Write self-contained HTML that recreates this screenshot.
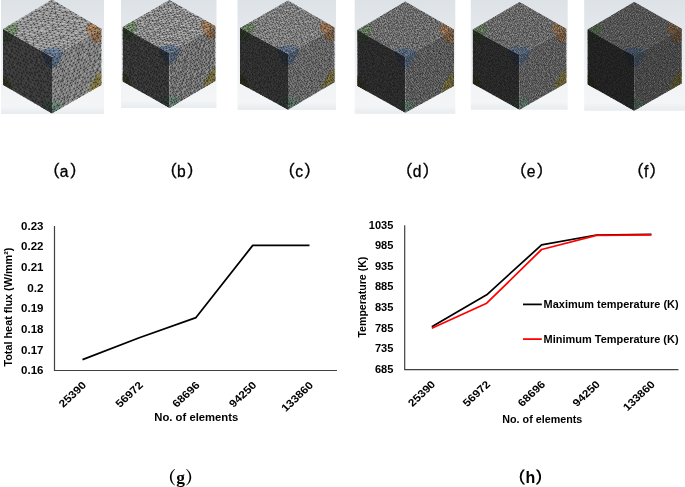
<!DOCTYPE html>
<html lang="en"><head><meta charset="utf-8"><title>Mesh independence study</title>
<style>html,body{margin:0;padding:0;background:#fff;overflow:hidden}svg{display:block;will-change:transform}</style></head>
<body>
<svg width="685" height="487" viewBox="0 0 685 487">
<defs><linearGradient id="pg" x1="0" y1="0" x2="0" y2="1"><stop offset="0" stop-color="#dde2e7"/><stop offset="0.75" stop-color="#f1f3f5"/><stop offset="0.93" stop-color="#f3f5f7"/><stop offset="1" stop-color="#e8ecef"/></linearGradient><path id="ml" d="M0 0l13 0 7 1 8-1 13 2 7-3 10 3 13-5 12 6 8-2 7-4 12 0 8 1 9 2 13 2 10-1 10 0 10-2 13 4 9-2 7-3 10-1 13 2 10 0 11 3 4-4 15 2 11-1 4 2 15-2 6 0 15 3 5-4 10-1 14 1 8 2 8 1 10 0 10-1 10-1 15 3 6 0 9-3 14 2 6 2 10-4 14 0M-6 6l9 3 10 0 11-1 14 1 7 2 8-4 14 4 6-4 13 4 7 0 14-2 8-3 7 5 11-1 11 1 12-4 7 3 9-3 13 4 11-4 12 0 4 0 13-1 8 2 12-2 9 5 14-1 8-1 7-3 9 5 14 0 6-2 13 1 9 2 8-3 14 2 10-1 11 1 7-1 13 1 8-1 12-1 9-1 9 1 7 0 16 2 8-3M1 18l9 1 8 0 9-1 13-2 11 1 10 3 8-6 10 4 9-3 14 3 8 2 9-2 9-1 14 3 10-3 8-1 8 1 14 2 9 1 8-5 11 1 8 1 13 0 8 2 14-2 4-2 15 0 9 3 8 1 8-4 13-1 12 2 6-1 13 2 10 1 11 2 9-4 9-1 7 2 14-2 8 1 12 1 10 2 8 0 13-4 11 4M-7 26l13 2 8-2 13 2 11-2 8-2 10 4 10-1 7 1 15 1 7-1 9 0 13-3 5 1 13 2 10-5 12 0 10 1 7 4 9-4 12 3 12 0 11-1 10-3 5 3 11 1 12-1 11 0 7-1 13 3 6 0 15-2 7-2 10 2 11-3 12 3 6 2 11-2 11-3 9 2 13 4 6-3 9 0 14 2 8-3 8 2 15-3 9-1M-2 33l13 1 8 1 9 1 10-1 11-2 11 1 9 0 11-1 8 2 13 0 11 0 10-2 9 4 11-3 7 3 9 1 14-6 6 4 11-4 13 2 10-2 7 4 8-3 14 4 12-5 7 4 10 0 8-4 10 0 12 3 10-2 8 0 14 5 11-6 4 5 13-1 9-2 11 0 11-2 10 5 7-3 13 0 7-1 12-1 12 4 9 1M-4 43l10 0 12 2 6 1 12-1 11-2 10 3 9-1 11-2 9-2 8 2 8-1 14 2 7 2 13-4 10 2 9-1 13 1 8 1 12-5 8 5 8-2 8-2 12 0 10 5 11-3 13 1 10 0 9-3 9 4 6 1 11-3 10 0 13-2 12 2 7 1 9-2 12 2 8 1 10-5 9 1 10 4 11 1 12-5 12 5 4 0 13-3 13-1M0 55l11-3 12 2 8-4 10 2 7-3 12 1 10 3 10-2 10 0 12 1 11 3 8-5 7 4 14-1 7-2 12 1 10 1 11-3 6 5 14-1 5-5 12 3 12-2 9-1 8 4 12 0 9-1 9-1 13 3 6-4 15 3 10-3 8 1 12 0 9 4 8-3 12 2 9-3 8 3 9-5 13 3 11-1 11-2 6 4 9-2 14 2M-6 58l10 4 10-4 12 3 12 2 9-3 10-1 7 1 14 3 5-3 11 0 10 0 9 1 14 0 10 0 6 1 14-3 5 2 13 0 13 1 9-4 8 4 8-4 13 5 7-2 10 1 13-3 7 3 12 0 9-2 14 2 7-1 11 1 11-2 10 2 10 0 10 1 11-2 7 1 12-2 8-2 11 6 8-5 9 1 11 3 8-4 11 3 14-3M-3 69l14 3 6-5 11 1 10 3 13-3 7 0 10 3 11-1 13-1 7 3 13-4 8 4 10-4 7 4 15-3 8 0 9 3 12-4 6 1 12 2 12-1 7-3 11 1 13 1 9 3 8-3 9 2 9 0 15 0 5-3 14-1 9 2 13 1 9-2 10 1 11-2 9 1 8 1 8 2 11-3 8 0 13 3 9-1 9-1 12 3 12-2M-8 77l14-1 9 2 7 3 15-5 9 1 8 1 10-1 10 2 10-3 12 1 12 1 8-1 11-2 6 1 13 3 7-2 14 1 6-2 10 0 11-1 14 3 7 1 12 1 7-3 10-2 10 4 14 1 8-1 6-2 12 2 9-2 12 3 12-1 6 1 14-2 7 0 9 1 15-1 8 2 7 1 13-5 6 0 13 3 9 2 10-3 9 3 10-1M0 87l10-2 12 5 10-3 6 2 11 0 9-2 14-2 8-1 7 1 16 4 8-4 10 3 8-1 13-3 6 2 10 0 12-1 10 0 10 1 11-2 10 0 12 3 7-1 11 2 11 0 8 2 12-1 7-3 11 3 10-2 10 2 9-5 12 5 10-2 11-2 9-1 7 2 12 0 7 2 13-3 9 1 9-2 14 5 9 0 9-1 8 0M-5 98l8-1 10-2 15-3 5 2 11-1 13 4 7-3 12-1 6 5 12-3 14 3 7-5 9 5 13-5 10 1 8-1 12 5 6-2 10 2 9-5 14 1 11 3 9-4 10 5 9-5 8 1 13-1 7 1 13 3 8-1 13 0 6-2 15 2 6 0 9 2 12-3 10-2 11 1 8 3 9-3 14 0 7 2 9 2 15-6 7 5 9 1 11-5M0 105l9 0 13-1 8 2 11-2 12-2 9 0 9 0 9 4 12 0 6-2 10 0 12-3 11 4 9 1 8-4 9 2 13 0 9 2 8 0 13-2 12-2 6 1 9 0 14 1 8 0 9 2 10-4 10 3 14 1 5-3 12-1 14-1 7 4 13-3 7 3 7-3 15 0 7 1 11-2 7 6 15-2 6-3 12 0 10 5 9-4 14 2M-8 112l14-2 8 4 13-1 10-1 7 3 10-1 9-2 10 1 10-2 10 1 11 0 14 2 9-3 7-1 12 2 8-2 9 1 11 4 12-4 8 0 14 1 9 2 10-4 7 2 8 3 12-1 11-4 9 1 8-1 14 0 8 2 11-2 11 1 10 3 7-3 11 3 10-2 13-1 7 1 9-2 9 3 13 1 13-3 8 4 7-1 13 1 11-4M1 119l9 2 7 0 12 0 10-2 10 2 9 1 10-3 11 2 9 1 13 0 10-4 8 2 8 1 10 0 14 0 8-1 8 0 15 2 7 0 9-1 13 3 8-2 14 1 8-1 8-1 10 2 13-2 10-3 6 3 11-1 14-1 5 1 13 0 6 2 12-2 11 2 10 0 10 1 13-3 6 4 10-1 12-1 12 1 5-1 12 0 9-2M-4 130l7-2 11 0 11 0 7-1 11 4 10-1 14 0 6 2 14-5 7 3 13-1 9-1 10 1 8 2 13 1 8-3 11 2 11 1 6-3 13-1 7-1 13 6 12-5 8 1 10 0 12 4 4-2 11-4 11 4 14-3 6-1 11 3 9-1 13 3 7-3 12 2 12-2 8 1 11-2 6 0 15 0 7 0 9-1 11 1 11 1 7 1 11-2M-3 136l15 1 5 0 13 5 8-1 12-3 12 0 5 1 14 0 8 2 13 1 8-1 11-4 6 0 11-1 11 4 10-1 8-2 16-1 7 4 12 0 7 0 13 0 11-4 10 2 8-1 11-1 8 1 9 1 12 2 8-1 10-2 13 0 6 1 13-1 10 2 10-2 7-1 11 2 8 1 12-2 11 4 8 0 11-1 9 1 12 0 8-3M-4 145l8 3 14-2 5 0 15-1 8 1 10-1 10 5 11-2 8 0 8 1 13-2 10 0 8-1 12 2 9-4 11 3 10 1 12-3 7 5 11-4 10 4 8-1 9 1 12-4 12 2 11 1 9-2 11-2 9 3 7 1 11-2 12-2 7 3 8 0 15-1 6 2 14 0 8 1 12-5 7 0 8 1 15 3 6-4 11 4 12 1 6 0 11-2M2 157l6 0 12-4 9 2 12 0 10 2 7-3 13 2 7-2 15 3 6-3 14 3 8-2 8 0 9 2 12 1 9-2 11 3 9-2 9-1 11 2 10 0 12-2 12-1 8 1 9-3 10 2 10 4 9-2 12-3 8 0 13 0 8 1 12 3 9-2 7 2 10-3 11 2 12-2 11 4 5-2 13-2 10 0 11 2 12 2 10-4 9 2M-4 168l6-4 12 1 9 2 10-3 10 0 13-2 7 3 13 1 8 0 12 0 7-2 9 3 16 0 4-3 13 1 8 1 11-1 9 0 10-3 12 1 12 0 7-1 9 2 12 0 12-2 10 0 11 3 6 0 13 2 7-5 9 4 13 0 7-1 9-3 12 5 12 0 6-3 10-1 11 4 11-3 12 3 12-2 7 2 9-4 12 0 8 1 11 0M0 173l7 2 10-2 13 0 8-2 11 1 11 0 11 1 6 0 16-3 8 6 8-2 10-2 12 2 8-1 11 2 7-4 12 1 13 1 10 0 7 1 9 2 14-4 7 3 13-1 5 1 10-1 13 2 11-6 12 5 7-5 11 3 10 3 12-5 9 2 10-1 8 1 8-1 13-1 7 4 13-2 7-2 11 5 11 0 8-3 12 2 8 0M-5 179l10 2 11 3 9-1 9 1 9-1 10-1 10-1 10 0 13 1 8 0 13-1 9 1 12-1 8-1 8 3 11-3 7 4 12-1 11 0 10 2 12-3 8-2 12-1 7 5 8-1 13-1 9-2 14 3 9-4 10 1 6 2 13-2 11 2 10 2 9-3 12 2 6 1 12-4 7-1 12 1 9 0 9 2 11-1 10 1 13-2 10 4 9-2M1 191l10 2 11-4 5 4 12-1 9-2 11 2 14-1 7-1 8 3 10 0 13-5 11 0 8 0 13 1 9-1 9 0 6 3 16 1 9 0 8-4 10 1 10 1 10-1 11 1 9-2 10 3 13 0 5-2 11 3 14 1 10 0 9 0 5-3 14 2 10-1 12-3 7 5 7-5 15 5 5-5 15 4 8-1 12 1 5-4 15 5 10-3M-6 198l8 3 12-1 11-2 11 1 7 2 10-4 11 2 13-1 6 2 11-1 10 2 9-3 11 0 12 2 11-1 5 2 11-4 11 5 10-4 13 4 7-5 13 4 7 0 10-3 12 3 9 0 7-2 12-2 13 0 6 4 15 1 6 0 9-2 15-3 5 3 14 1 11-2 6-2 10 5 8-5 12-1 10 1 9 2 12 1 12-1 11-2 5 0M-1 209l14-1 5-1 12 0 12 4 8-3 12 0 6 3 15-6 9 2 5-1 11 3 10-4 10 5 12-1 10-3 7 1 10-1 14 1 9 2 9-2 13 1 8 0 10-1 12-1 11 4 9-4 8 5 9-5 12 0 10 0 12 1 5 2 11-1 11 2 10-3 7 1 12 0 12 0 7 0 12 1 13-2 7-2 12 1 10 4 7 0 11-3M-5 219l10-3 9 3 11-3 8-1 14 3 11 1 8-1 10 0 11-3 10 0 6 4 9-2 12 1 12 1 12-2 4 1 11 1 14-4 6 3 14 1 9-5 10 0 11 4 10 1 8 0 11-3 8 0 8-2 15 1 9 3 10-1 8-2 9 2 13 2 8 0 13-4 11 2 10 1 6-3 11 1 7 3 13-3 11-1 7 2 10-2 9-1 12 3M3 226l6-1 9 0 15-2 7 3 12-1 9 3 11-4 8 4 10-5 12 0 6 2 11 1 12-2 11 2 9-1 9-2 10 5 12-6 5 2 14 1 7 0 12 2 9-1 12 0 6 0 11-4 12 0 7 3 13-2 13 4 7-1 9 2 9-4 10 3 12-2 9 2 10 0 12-2 8 0 11-1 11 1 8 2 11-2 12 0 7 3 14-1M-6 235l12-2 10 4 10-2 9 0 8 0 12 2 9-2 8-2 15-1 9 0 8 5 9-1 9-2 15 2 7-2 12 1 10-1 8 1 11-1 13-2 9 1 9 4 8-3 11 0 8 1 14 0 7 1 11-4 11 2 9 3 10 0 9-2 8-2 14 2 11-2 7 0 11-2 9 4 9-2 14 3 6-4 10-1 14 4 7-1 12-3 11 5 6-1M1 242l11-1 8 0 10 3 10-1 13-2 5 2 10 2 11-3 11 2 12 0 6-2 13-1 11 4 6-3 10 2 9 0 10 1 13-2 8-3 11 5 12 0 6-5 10 4 11-3 13 3 8-2 10 1 10-1 9-1 11-1 10 3 10-3 13 2 8-1 12 3 9-1 10-1 8 0 11 0 10 1 12 2 6-5 11 0 13 3 7-2 13 3M-4 252l10-1 8 0 13 3 11-1 4-3 16 1 7-1 12 1 11-2 10-1 5 2 13-1 9 5 10-1 11-1 7-1 14 1 6-1 12-1 10 2 7-3 14 0 6 4 12 1 11-5 11 1 11 2 10-4 5 5 11-4 9 0 13 5 9-4 13-1 9 3 12-4 7 2 12 0 9-1 9 5 8-4 15 2 4-3 11 1 14 2 11 0 8-2M1 260l6 0 12 0 8-3 16 2 6-1 12 4 7-2 12 1 10-3 8 3 9 1 10-4 13 4 11-1 11 0 5 1 11-4 9-1 15 2 6-2 14 3 10-3 6 2 10-2 10 4 10-3 12 1 8 1 12-1 10-2 11 1 8-1 13 3 7 0 14-2 6 3 10 0 13-4 7 2 13 3 9 0 7-3 14 2 6 2 13-1 8-2M-2 271l7 0 13-1 8 1 7-3 12-2 12 0 9 1 8 2 9-1 14 3 7-3 12-1 11 0 8 0 7-2 10 2 12 4 12-5 10 1 9 3 12 1 8-4 9 0 12 1 10-2 11 5 6-2 10-3 11 1 12 2 10 2 6-5 10 2 15 2 8 1 9-5 12 0 7 0 10 0 12 0 11 4 8-4 12 4 11-1 8 2 11 0 8-1M1 277l6 0 12 1 11-1 7-2 14 3 12 1 6-2 11 2 9 1 11-3 10-1 13-2 6 1 12 0 7 2 13 2 9-3 9 3 9-5 14 3 6-2 14 4 5-1 11-1 13-3 12 2 5 3 10-5 13 3 11 2 6-5 13 3 8 3 9-2 9 2 16-2 6 0 13 1 5-2 11 0 15 2 5-2 11-2 12 4 8-2 12 1M-5 283l8 1 14 2 9-1 8-1 14 2 5 1 13-1 11 0 10 3 7-2 10-2 10 2 10-2 13 3 9 0 8-1 10-2 9 3 15-3 6-2 9 4 14-4 7 4 9 1 11-2 9-1 12-1 11-1 10 5 8-4 9-1 14 3 5-1 14 0 6 0 12 4 10-1 13-2 6 2 10-2 10-3 11 1 14 2 9 3 10-2 8 0 11-3M0 294l10 2 11-1 11 1 6-4 9 0 16 1 7 1 10-1 12 0 10 3 5-1 11 2 9-4 15 2 9-1 9-1 10 0 11-1 7 1 12 2 7 2 15-3 6 2 15-3 9 3 11-3 5-1 10 5 14-3 6 0 10 1 13 1 9-2 10 0 10 2 11-3 9-1 7 2 12-2 8 2 16 2 4-3 12 0 9 2 14-1 6-2M-8 305l11-1 14-3 6 1 14 3 7-2 10 0 13-1 10 4 9 0 12-5 10 0 9 0 7 2 13 1 6 1 14-2 5-1 12 1 14 1 9-3 6 3 11-3 8-1 12 3 10 0 10-3 12 2 9 0 9-2 10 2 9-2 12 0 12 2 8 1 7-2 15 2 8-1 12 1 10 2 10-1 9-1 9 1 10 1 12-5 10 4 9 2 6-3M-1 314l9-2 10 1 12 0 9 1 8-4 14 4 11-4 5 3 14-4 12 3 4 0 12-3 13 5 6-3 11 2 9-2 11 1 11 0 13 2 9 0 6-4 12 3 11-2 12 0 4-2 11 4 14-4 6 1 14 4 7-5 14 6 8-3 10 1 9-3 10 3 9 0 9 2 10-5 15 4 10 0 9 0 8-5 11 5 11-5 5 4 13 1M-2 320l8 1 10-1 10-2 11 4 10-2 6 0 13 1 7-4 11 2 9 0 11 3 13-1 5 2 14-1 10-2 8-2 12 0 10 5 10-2 11 2 10 0 8-5 11 3 11 0 7-4 13 4 11 0 9 1 11-2 9 0 5-1 12 4 10-4 12-1 8 2 9 1 12 1 9 1 9-2 10-3 11 5 10-3 11-1 10-1 9 1 13 3 9-1M2 331l5-4 14 4 12 0 5-2 13 1 7 2 12-4 13 0 4 2 12-3 10 3 10 0 13 2 10 0 7-1 9-1 9-3 16 0 8 2 6 2 10 0 15-2 8-3 11 0 9 6 11-5 10 3 8 1 11-2 10-1 9 3 10 0 10-4 8 5 15 0 9-6 7 0 13 4 12-2 5-1 10-1 12 3 9 3 10-1 11-4 7 3M-3 335l9 1 10 4 10-4 7 5 14-1 8-5 9 5 8-3 10 3 12-5 10 1 11 2 11-3 9 0 10 5 9 0 9-3 14-2 8 3 11 2 10-4 7 2 11 0 9 1 11-4 9 5 14 0 7 1 9-2 15-3 4-1 11 5 13-2 7 1 10-3 13 3 11 1 6-3 10 1 9 2 14 0 9 0 12 0 10-4 7-1 13 3 11-2M0 349l13-1 9 1 7-2 8 0 16-1 5 1 9-1 10 0 15 2 10-2 8-2 12 3 7-3 11 0 8 0 12 0 12 3 10 0 6-2 14 2 9 0 6-2 13 3 13-1 6-3 11 2 13-1 5-2 9 5 15-4 5 3 11 0 14 1 7-1 10 1 10 1 12 0 8 0 11-4 11 0 7-1 13 1 7 3 10 0 11-2 14 2M-3 358l9 0 10-2 8-2 11 0 11 3 10-4 6 1 13 3 10-2 11 0 10 0 9-2 8 2 14 3 7-2 11-1 8 2 10-4 11 0 9 0 12 0 11 3 10-1 10-1 9 2 8 0 13 2 10-3 11-1 7 1 12 1 7 2 15-3 10 1 6-3 8 3 14 0 11-1 9 1 10-1 10 0 7 1 13-1 12 0 5 0 11-2 13 0M1 362l9 5 8-1 9 1 15-4 9 0 7 0 12 3 8-2 12 0 12 0 7 2 12-4 9 4 7-1 13-3 8 0 12 1 11-1 10 2 11 2 6 1 12-4 9 2 11 0 9 1 10 0 11-3 10 1 10 0 13 1 5 2 9-6 15 1 5 0 13 4 7-4 10-1 12 3 14 1 9-1 10 1 6-2 12-2 13 3 5 0 14-2M-4 370l7 1 12 3 8 0 13 0 12-3 10 1 7-2 8 3 10-3 10 3 10-2 14 1 6 1 15 0 7 0 11 1 11-3 10-1 6 2 10 1 11 2 11-1 13-2 9 0 7-2 12 5 10-4 9 1 9 2 8-2 13-2 11 1 8 0 12 1 10 0 11 1 6-1 11-1 14 1 8-2 10 0 7 0 9 5 16-3 4 2 14-4 11 0M-2 383l14-4 8 4 11-2 7-3 10 3 13 0 10 0 10 0 11 0 10 3 10-1 9-2 7-2 13 1 10 1 10 0 7-1 13 3 8-3 11 1 11 2 11 0 9 1 9-3 11-1 11 1 8 0 9-3 10 3 14-2 9 5 10-4 5 3 10-3 16 2 9 1 6-2 10-1 12 3 9-1 9-2 9 2 14 0 9 2 11-3 11-2M-6 390l12 2 10-5 12 3 5 1 13 1 9-4 10 1 9 1 9-2 10-1 12 4 9 1 12-1 8 1 10 0 9 0 13-4 10 0 8 1 10 0 9 0 10 2 11 0 11 2 12-2 10 1 11-3 8-2 8 2 12-2 11 0 8 3 12 0 6 1 10-1 11 2 11-4 9 4 10-4 11 3 13-4 6 4 11 0 11-4 6 1 12 0 10-1M-3 399l15-3 6 4 9-4 13 1 12 1 8 0 7 2 12 0 9-2 12-2 7 5 16 0 7-1 11-2 7 1 12 0 7-2 11 3 12-3 12 1 7 0 8-2 10 5 15-2 11 0 8-3 9 3 9 0 10 0 9-1 12 1 7-2 14-1 9 5 11-1 11 1 7-3 13-2 8 1 10 3 12-2 9-2 10 5 10-3 9 0 8-1M-3 407l5 1 15 0 6 2 10-3 12-2 9 0 9-1 13 4 8 2 11-3 13 1 7 1 11-3 6 2 14 0 7 0 10 1 13-1 6-2 14-1 6 1 15 2 6-3 14 4 9-4 11-1 6 2 15-2 5 4 14-2 5 3 16 0 7-4 11 3 11 1 8 1 10-3 11 2 10 1 8-1 13-3 5 2 14 2 9-2 12-3 9 2 7-1M-1 417l11-2 7 2 15 1 10-5 7 2 10 3 9-5 12 0 7 3 14 0 6 0 13-1 8-1 12 1 11 2 8-1 10 1 9-1 13 1 9 1 13-1 6-3 12-1 7 0 13 2 12 3 7-3 9-2 9 5 11-5 14 2 9 0 11-2 7 4 7 1 12-1 8-4 11 4 15 1 7-5 12 3 10 0 8-2 8-1 12 1 13-1M-3 422l6 5 10-2 13-1 8-2 12 2 10 2 6-2 12 3 12-4 9-2 10 1 8 2 12-1 11 0 10-1 11 2 6-1 13-1 11 1 7-1 11 5 8-5 12 3 8-2 13 0 6 3 15 0 10-3 7 2 12 0 9-2 8-1 9 3 11 2 15-5 10 3 4-1 12-1 8 0 10 1 13-1 13 4 7-1 9 0 13-3 9 0 7 1M-2 434l11-1 13 1 10 0 9 0 10 2 10-2 9-1 13-1 5 1 11 1 12-4 7 4 11 0 11-3 11 5 7-2 13 0 9-1 13 2 7 0 11 0 12-5 5 1 14 5 6-3 14 1 9 1 12-4 10 1 8 3 8-3 13 3 11-4 8 3 12 0 6-3 9 1 12 0 8-1 13 4 7-2 15-1 7 3 7 0 15-1 7-1M-2 439l4 4 16-3 5 1 14 1 9-3 7 3 13-3 7 2 11 0 9-2 13 5 10 0 7-2 11 2 12-2 11 2 6-3 10 1 10 1 11-4 13 0 7 3 8 1 14-4 10 0 9 0 9 2 11 2 13-2 6-1 12 1 7-1 12 4 10 0 10-2 9-1 12-2 9 1 9 1 9 1 9-2 12 0 13 3 10-4 6 2 12 3 12 0M-3 447l12 3 8-1 11 4 10-4 10 3 10-2 10-1 15 3 8-3 12 4 8-4 6 2 13 1 13 0 5 1 13-5 7 5 14-1 9-5 12 2 9 2 8-1 13 2 6 0 9-3 11-1 10-1 14 5 7-4 9 4 10-4 11 3 8-1 12 2 9 1 10-1 8 1 13-5 12 5 6 0 15-4 9 3 8-2 9 2 13 1 5-2M-4 457l6 4 15-1 7-1 13-2 9 3 9 2 11-1 7-3 11 1 13 3 10-1 11-1 8-3 8 2 9 2 11-4 8 2 12 3 12-3 7-3 13 4 9-1 9 2 8-4 15 1 7 1 10 2 9-2 13-1 10 0 10-1 8 2 12 0 6 0 15-1 6 2 10-3 9 3 15 1 9 0 11-3 7 4 14-2 8-2 7 0 10 2 13 0M-2 439l-1 8 5 14M-3 422l1 12 4 9 7 7 8 10M-3 407l2 10 4 10 6 6 9 7-1 9 7 10M-6 390l3 9 5 9 8 7 3 10 9 9 1 7 5 12 9 4M-4 370l2 13 8 9 6 4 5 12 0 9 9 7 6 10 5 8 1 7 8 11M-3 358l4 4 2 9 9 8 4 8 2 13 5 10 9 8 2 4 7 12 5 5 2 13 7 10M-3 335l3 14 6 9 4 9 5 7 5 9 8 7-1 6 6 11 9 6 4 11 5 12 2 6 5 8 8 11M-2 320l4 11 4 5 7 12 3 8 2 10 5 8 8 7 2 10 7 6 5 8 4 10 7 11 5 8 5 5 2 10 5 9M-8 305l7 9 7 7 1 6 9 13 6 9 2 5 3 13 9 7 2 4 8 14 6 6 2 7 5 13 3 6 8 9 3 8 10 11 1 7M-5 283l5 11 3 10 5 8 8 8 5 11 5 5 3 11 6 7 7 9 6 8 0 10 7 7 5 10 3 6 5 9 6 14 9 5 1 9 7 8 6 13M-2 271l3 6 2 7 7 12 7 5 1 12 8 5 7 13 0 10 4 6 9 10 5 6 7 9 3 9 4 8 2 11 9 8 4 5 6 10 2 10 5 6 10 14 4 8M-4 252l5 8 4 11 2 6 10 9 4 9 2 7 7 11 7 9 1 7 9 11 6 6 3 7 2 10 7 7 6 11 3 9 5 10 5 10 3 6 8 5 4 13 7 10 5 5 7 11M-6 235l7 7 5 9 1 9 11 10 1 8 7 7 6 11 5 9 2 9 8 6 4 10 4 5 3 12 4 7 8 12 3 7 8 8 2 7 5 10 7 9 6 9 4 6 6 8 5 14 1 7 9 6M-5 219l8 7 3 7 6 8 2 10 5 9 7 11 4 6 4 7 4 8 6 11 3 7 6 10 5 12 6 8 3 6 8 11 3 7 5 6 9 11 1 6 7 9 8 12-1 8 6 8 5 10 5 8 7 10 4 7M-6 198l5 11 6 7 4 9 7 12 4 4 7 13 0 3 6 11 4 7 11 11-1 6 7 11 7 11 5 7 4 7 2 9 5 9 8 9 5 9 3 9 9 11 3 7 2 10 8 8 5 6 5 8 4 11 5 10 9 8 0 9M-5 179l6 12 1 10 11 7 1 11 4 6 8 10 4 9 8 9 5 6 2 7 6 12 2 9 10 6 4 9 5 8 1 7 10 11-1 12 10 8 4 7 6 9 1 7 9 12 2 9 9 9 3 5 2 8 8 9 4 8 6 11 2 11 6 4M-4 168l4 5 5 8 6 12 3 7 4 7 7 9 8 7 2 12 5 8 2 7 7 8 8 8 6 13 3 7 4 8 7 12 0 7 7 6 3 11 7 5 8 11 4 9 3 11 8 6 4 9 5 10 4 9 2 8 8 7 6 7 5 14 6 8 4 4 1 11M-4 145l6 12 0 7 5 11 9 9 6 5 3 9 5 9 3 8 7 11 3 9 10 6 5 10 3 11 5 5 3 10 8 9 3 7 6 13 5 3 2 10 6 8 5 9 6 8 5 9 6 9 2 11 5 6 6 13 7 6 5 10 5 9 6 7 1 10 5 7 5 12 6 9M-4 130l1 6 7 12 4 9 6 8 3 8 8 10 2 10 9 6 6 12 5 7 5 7 3 12 3 6 7 7 3 10 6 9 6 10 7 10 5 4 6 8 5 11 1 10 5 8 6 8 7 9 1 8 7 11 8 7 3 7 3 12 4 7 5 9 6 8 4 7 8 11 2 8 9 10 4 7M-8 112l9 7 2 9 9 9 6 9 2 7 3 14 7 6 4 11 5 8 4 9 7 7 8 11 3 9 3 7 4 10 9 6 3 10 3 7 6 12 5 7 8 9 6 5-1 11 10 9 2 9 7 5 3 9 8 14 0 7 8 8 6 8 2 11 7 7 3 10 6 8 7 5 4 11 3 10 8 4 2 9M-5 98l5 7 6 5 4 11 4 7 3 9 6 9 6 9 4 9 5 7 5 12 5 7 5 7 9 11 4 10 6 6 0 9 7 9 9 7 2 9 7 13 3 6 4 8 3 10 10 6 2 8 3 14 10 9 3 3 5 9 4 12 6 6 6 12 5 7 5 7 1 9 9 11 2 8 9 7 6 12 1 4 9 10 3 11M-8 77l8 10 3 10 6 8 5 9 3 7 8 7 5 14 8 3 3 10 2 9 6 8 4 10 6 10 5 7 4 12 8 7 4 10 7 4 3 12 8 4 0 13 6 7 6 8 4 11 4 10 6 6 8 11 4 8 6 10 3 8 3 4 7 11 3 7 9 9 1 9 8 8 2 12 4 6 9 11 3 5 6 13 7 4 5 12 3 8M-6 58l3 11 9 7 4 9 3 10 9 9 5 9 2 8 3 6 6 14 8 5 5 11 5 5 4 10 3 9 10 10 4 7 6 7 4 10 3 8 6 9 6 12 1 6 4 12 9 5 7 7 1 11 3 8 10 11 1 7 8 9 3 11 5 9 6 4 3 13 7 6 7 7 4 13 3 6 6 8 6 8 4 13 5 9 6 8 3 7 6 8 4 11M-4 43l4 12 4 7 7 10 4 6 7 12 6 2 2 14 7 6 2 7 4 12 7 7 6 7 2 9 5 11 8 8 2 8 7 9 3 10 9 7 5 8 5 8 2 14 4 5 8 7 1 9 10 9 2 8 8 13 5 7 1 10 6 8 5 5 4 12 5 7 9 10 1 6 8 9 2 10 6 8 5 9 8 9 0 8 11 11 0 5 10 8-1 13 11 9-1 5M-7 26l5 7 8 10 5 9 3 6 3 9 5 14 10 6 1 7 8 10 3 11 5 6 4 9 9 8 4 12 5 6 5 10 1 7 9 9 2 11 6 6 3 7 6 13 5 6 5 11 8 5 4 13 5 8 5 5 6 8 5 13 5 6 6 9 1 8 8 7 1 9 10 8 5 12 2 6 7 11 2 9 7 8 3 8 6 9 8 10 2 6 6 11 3 6 8 8 3 13 8 6M-6 6l7 12 5 10 5 6 7 11 5 9 3 7 2 7 9 8 1 13 6 4 9 9 1 12 4 8 9 8 0 9 10 9 1 6 6 12 9 4 1 12 4 11 6 8 4 8 4 8 7 9 3 8 10 11 3 8 6 8 1 4 6 12 6 10 6 6 2 9 7 10 7 11 7 4 2 11 3 7 5 8 9 13 2 9 7 8 2 8 4 5 6 9 8 8 2 10 9 13 4 3 2 10 6 10M0 0l3 9 7 10 4 7 5 9 5 11 7 4 7 13 0 8 8 6 3 12 8 8 5 5 1 10 5 7 5 13 8 7 4 9 8 9 3 9 5 10 6 5 4 7 2 10 5 7 6 13 7 6 6 12 1 6 8 10 6 9 0 6 9 12 3 6 6 8 4 10 6 9 6 9 5 8 5 11 6 7 3 6 3 14 7 7 7 9 2 8 3 10 10 8 1 4 8 10 2 10 7 6 4 9 5 13M13 0l0 9 5 10 9 9 1 8 8 9 5 7 6 8 4 8 3 10 4 9 6 7 7 8 2 11 6 8 8 6 2 14 4 8 6 5 4 10 6 10 7 8 6 6 2 10 4 12 8 9 6 7 2 8 4 10 5 7 4 11 7 9 6 5 3 12 8 4 7 12 5 10 4 9 0 8 9 5 5 11 5 9 4 7 8 9 3 12 4 9 7 6 4 6 5 10 1 11 10 8 2 7 5 6 4 12M20 1l4 7 3 10 11 8 0 9 9 8 1 6 9 10 1 9 6 9 8 8 4 8 4 13 3 5 5 11 6 8 8 12 4 5 7 10-1 10 7 5 9 9 2 7 6 12 4 9 8 8 3 8 5 10 1 9 10 8 1 6 8 8 3 13 9 6 0 8 9 8 5 13 5 9 0 8 6 7 4 7 9 10 3 10 8 7 3 9 7 10 6 8 4 5 6 14 4 8 4 9 4 8 8 9 3 6M28 0l10 9 2 7 6 8 3 9 8 13 3 4 4 10 4 11 6 8 6 5 2 14 10 8 1 6 8 10 6 7 3 12 6 6 5 8 7 12 3 7 5 6 7 9 4 10 3 7 2 12 8 5 6 11 1 11 6 6 4 6 9 10 2 7 6 9 6 12 3 9 5 6 7 8 7 11 2 9 6 10 6 6 4 11 4 5 7 10 6 12 4 4 2 10 7 9 7 8 6 8 5 10 2 7 6 10M41 2l4 9 6 6 5 11 4 6 6 11 4 8 8 10 1 7 5 6 3 9 7 10 4 9 6 8 7 6 5 10 5 9 3 9 5 9 3 9 7 9 5 10 8 5 0 13 5 6 6 12 7 9 4 7 6 8 5 7 7 9 3 11 7 7 1 10 4 10 7 4 6 12 6 8 4 5 3 13 10 8 2 9 4 10 7 9 6 6 6 8 2 10 8 5 1 9 5 12 9 7 1 8 5 12 7 5M48 -1l5 8 8 13 5 7 3 7 8 9 3 8 3 9 9 9 4 8 7 12 5 9 0 6 10 10 1 6 7 9 1 8 9 11 2 9 7 8 5 10 5 5 6 8 2 9 4 9 10 9 5 7 3 12 3 6 7 12 3 5 9 14 1 4 9 8 5 11 0 6 9 11 6 10 4 5 3 9 5 9 4 12 6 10 7 5 4 10 6 6 3 12 4 9 5 10 8 7 5 10 5 6 3 7 5 11M58 2l9 9 2 3 4 14 7 5 6 8 4 10 4 9 5 12 9 6 3 7 4 8 5 8 7 10 0 10 7 10 4 5 7 8 5 14 3 8 4 5 5 13 5 7 7 11 7 5 2 11 4 6 11 8 1 13 3 4 10 11 3 7 7 12 2 8 4 9 6 7 9 8 1 6 6 15 3 8 7 6 6 12 4 5 5 9 4 6 5 11 5 10 8 7 2 7 6 10 4 9 4 8 7 11 6 8M71 -3l2 10 6 11 9 11 0 6 6 8 8 9 2 8 8 8 4 9 5 11 3 10 7 7 3 5 3 11 10 11 2 8 7 7 3 9 5 9 5 7 5 11 9 9 1 6 6 11 7 10 4 6 6 8 4 12 5 4 6 8 2 10 3 11 6 10 10 5 1 10 3 6 10 12 4 6 6 13 6 5 3 10 4 9 4 10 5 7 7 6 2 11 4 11 11 6 0 7 9 13 3 9 3 6 4 9M83 3l3 8 2 4 7 13 6 7 1 7 11 13 0 6 7 11 7 3 2 12 8 6 3 13 6 6 5 9 4 8 4 10 7 9 4 11 3 6 9 8 3 10 7 9 5 10 2 5 7 7 2 11 8 12 1 3 5 13 6 6 8 9 2 9 6 9 8 10 2 4 4 13 10 8 3 9 3 11 4 2 9 11 3 10 2 8 11 7 4 8 3 12 8 10 4 6 0 10 11 6 2 13 5 8 7 6M91 1l2 10 9 7 2 10 8 7 4 9 5 6 6 11 3 7 3 8 9 8 5 10 1 8 6 8 5 10 7 11 1 6 11 8 1 12 4 5 9 11 3 12 5 3 4 9 8 11 4 6 4 13 4 7 3 10 7 10 4 3 8 9 5 8 2 11 10 8 3 9 6 7 5 13 2 9 4 8 4 9 7 7 9 10 2 5 7 14 3 6 2 7 8 8 8 8 0 14 8 7 4 8 4 11 4 7M98 -3l9 12 3 11 7 5 5 8 1 13 5 8 9 7 0 11 9 7 2 7 7 7 2 11 6 7 4 9 10 12 6 4 2 14 3 6 7 7 4 11 8 8 3 7 7 12 3 7 7 10 2 8 6 8 3 7 7 8 3 12 9 10 6 5 2 8 3 8 7 10 3 8 10 10 2 9 8 7 4 8 4 12 2 11 8 4 6 9 5 10 4 6 5 12 4 9 8 5 5 12 1 7 5 11 4 5M110 -3l5 9 4 12 3 8 9 11 5 5 6 11 1 9 9 7 1 8 5 9 9 12 3 6 4 11 8 7 1 7 7 11 6 6 3 12 8 5 1 13 7 4 5 10 4 11 6 6 7 12 4 7 2 9 8 9 5 6 2 8 5 11 5 10 8 4 2 14 6 3 8 14 5 6 3 8 2 7 5 12 6 11 4 3 7 10 3 12 6 8 7 10 7 8 0 9 11 7 1 6 7 8 1 14 5 7M118 -2l4 13 6 6 7 11 7 6 4 10 3 7 8 8 3 10 7 9 3 7 3 11 6 10 7 5 3 11 7 6 6 12 4 10 3 8 5 4 8 10 5 7 3 10 4 9 8 8 3 13 2 7 10 9 2 7 8 10 3 7 3 7 5 8 8 14 6 6 2 8 5 7 3 10 7 12 4 9 5 7 10 8 4 7 4 10 1 8 6 10 8 10 4 10 4 7 3 7 6 8 7 8 5 8 7 13M127 0l6 10 9 10 3 3 4 14 6 6 6 9 1 9 7 11 4 4 7 9 3 13 4 8 7 5 4 10 5 6 6 13 5 9 7 7 2 8 6 11 5 9 7 6 5 11 7 9 3 6 2 6 6 14 5 7 8 5 1 12 6 7 7 10 3 7 4 10 5 6 10 15 1 8 5 8 7 7 6 10 6 8-1 6 9 10 7 10 1 10 8 9 3 6 2 6 7 10 6 9 4 9 8 12 4 8M140 2l4 9 8 6 5 6 1 15 10 6 3 9 4 8 6 7 2 8 7 10 2 7 8 11 8 8 3 12 5 9 6 7 1 10 10 5 2 9 7 10 0 9 8 5 5 13 7 5 2 10 6 6 5 10 4 10 3 11 8 6 6 10 6 10 1 4 5 12 7 5 6 12 3 7 5 8 4 12 6 8 5 6 6 13 7 7 5 10 3 5 4 10 7 11 2 8 4 6 6 8 5 11 5 11 9 5M150 1l6 6 4 9 7 8 5 8 4 13 6 5 6 12-1 7 7 6 7 9 5 10 6 8 5 12 2 8 9 6 5 8 2 10 6 10 6 6 0 13 8 7 5 9 2 8 8 12 2 3 5 11 9 9 2 7 5 8 7 8 6 14 2 3 9 12 4 10 6 6 4 11 5 5 1 14 6 4 6 12 3 8 5 6 6 10 5 9 6 11 8 4 4 14 7 8-1 6 9 11 1 5 11 9 1 13M160 1l3 9 5 7 6 11 4 8 10 4 0 15 9 3 2 13 9 7 3 6 6 13 1 6 9 7 6 13 3 6 7 9 4 10 3 5 7 9 0 12 7 6 9 11 1 6 5 9 8 9 3 8 5 14 4 3 3 9 9 9 1 8 9 11 1 8 8 9 5 9 5 7 4 10 8 12 4 7 3 10 7 7 1 5 7 10 4 9 6 8 6 9 4 12 6 4 5 10 3 10 6 7 8 12 6 8M170 -1l2 8 10 12 1 5 6 8 7 13 6 9 3 8 6 8 4 9 8 8 3 6 1 10 7 9 7 10 5 7 5 8 7 12 2 6 8 10 2 11 8 7 0 6 9 8 4 9 5 12 7 9 2 10 4 6 6 11 4 3 3 11 7 12 7 5 4 9 2 7 8 12 3 8 8 5 6 14 4 9 6 6 2 9 9 8 2 11 5 8 5 9 7 6 5 10 6 11 5 5 4 11 3 7 6 8M183 3l2 8 6 9 4 7 7 7 2 9 3 6 6 9 5 9 9 13 3 6 6 12 5 6 1 11 7 6 9 12 4 3 5 11 3 12 4 6 7 5 6 9 2 13 4 9 8 5 5 11 4 9 4 9 5 5 5 10 8 10 5 10 1 8 4 7 8 11 7 7 2 10 6 9 3 4 5 11 6 12 7 7 7 9 3 5 3 12 9 5 4 11 0 10 10 8 3 10 5 9 7 4 2 13 4 6M192 1l4 6 3 8 8 12 5 5 0 9 7 11 7 11 3 5 5 9 7 11 4 5 4 11 5 10 5 9 3 8 8 6 8 8 1 12 8 10 6 8 4 5 6 13 5 9 5 5 1 8 5 13 3 5 10 9 5 7 2 11 6 11 2 9 7 9 7 4 4 9 3 13 6 8 7 7 2 8 7 7 6 10 6 9 4 6 2 10 6 11 7 5 5 14 4 4 4 12 3 9 6 6 9 12 1 7M199 -2l9 9 2 9 8 10 1 10 5 5 7 9 2 11 9 8 2 6 8 13 1 6 5 12 7 4 7 11 1 6 6 11 8 10 4 6 3 8 6 8 3 12 10 11 1 9 4 7 5 8 5 7 8 11 4 6 6 11 7 6 1 8 9 12 1 10 6 4 7 11 1 7 5 11 10 7-1 12 9 5 5 10 6 10 1 5 4 12 8 9 6 10 4 7 3 5 9 10 5 11 3 10 2 7 9 9M209 -3l3 10 6 10 10 6-1 10 7 13 6 3 3 13 8 10 3 7 6 11 6 3 2 9 6 9 8 7 2 13 7 9 3 9 5 5 4 12 8 7 5 7 6 13 1 7 6 8 7 11 2 8 9 6 5 11 6 4 1 13 7 5 3 12 8 8 0 8 10 11 6 9 0 4 5 9 8 13 2 4 5 12 5 7 4 12 9 7 5 5 5 11 6 7 3 9 6 9 3 10 8 11M222 -1l3 7 6 11 2 9 8 11 4 6 3 10 8 6 3 10 9 11 4 9 1 5 5 11 4 5 6 11 10 7 1 11 6 8 7 7 4 12 5 10 6 6 0 8 11 7 2 13 4 9 6 6 4 8 7 10 4 7 4 11 4 5 9 13 1 9 6 4 8 12 6 10 1 9 4 3 7 14 6 5 5 10 4 6 8 11 2 12 2 4 8 10 6 9 7 6 0 11M232 -1l1 9 6 11 5 8 9 5 5 12 2 9 3 9 5 9 8 8 3 7 7 11 6 9 4 4 3 10 5 7 5 10 8 8 3 10 3 10 10 6 4 13 4 8 2 8 7 7 7 8 2 12 6 4 6 11 6 8 5 7 1 9 4 11 6 9 4 8 9 9 6 11 2 6 6 9 7 11 1 8 10 7 5 9-1 10 9 7 3 7 4 9 5 9M243 2l2 4 8 11 3 9 4 10 8 8 1 8 6 10 2 9 5 6 8 12 4 7 3 7 7 9 9 7 2 11 7 7 2 11 8 10 0 4 10 11 4 8 5 10 6 10 0 7 11 9 1 10 5 8 5 7 7 7 3 10 6 7 3 11 5 6 10 13 2 8 5 5 5 10 4 13 8 4 1 12 5 7 5 9 8 6 6 9 2 8M247 -2l7 13 3 4 10 11 3 10 7 5 1 10 6 9 8 11 2 8 6 8 7 9 2 6 6 8 3 10 6 9 4 9 4 10 9 8 3 11 8 5 6 11 5 5 5 11 1 9 9 10 3 7 2 8 7 9 5 12 7 8 4 8 7 9 1 5 3 9 8 12 6 9 4 4 4 13 5 4 5 11 5 7 8 9 5 8M262 0l6 10 4 5 2 10 4 7 8 13 5 9 7 8-1 6 6 9 7 12 3 5 10 7 3 10 5 9 6 12 4 5 6 10 1 11 8 9 4 6 4 11 6 9 4 4 7 11 3 7 5 10 8 11 3 7 3 7 8 12 3 4 4 11 10 9 1 7 8 7 5 9 2 10 6 8 7 11 6 10 4 5M273 -1l3 10 5 9 6 10 1 4 4 14 5 4 8 11 6 6 4 13 4 4 9 12 2 9 6 9 1 8 7 7 7 10 2 10 5 6 4 9 6 8 8 8 1 8 7 14 4 6 7 8 5 8 3 8 9 13 6 7 0 7 8 11 3 5 8 14 1 6 9 9 0 9 10 9 0 8 11 6M277 1l6 5 6 13 4 9 7 7 3 8 9 10 4 9 4 7 7 10 4 10 3 7 9 6 0 9 6 9 7 11 5 6 6 12 2 8 3 6 9 8 2 8 9 14 0 4 8 12 2 10 9 6 2 6 5 9 4 9 10 12 5 8 4 10 6 8 5 7 4 12 4 8 6 7M292 -1l0 12 5 4 11 11 2 7 3 10 9 7 5 10 6 10 0 10 8 7 2 11 7 7 4 9 6 8 8 7 0 7 7 14 6 5 2 12 5 8 7 5 2 8 7 8 9 11 2 9 4 11 8 8 2 5 4 10 5 13 7 8 4 6 6 10 3 5 4 11M298 -1l8 12 4 3 5 10 3 9 8 8 4 10 7 11 5 6 5 10 5 7 3 10 2 7 7 10 6 10 6 8 3 8 8 7 5 14 2 5 7 9 3 7 8 12 2 5 6 8 6 10 4 10 4 9 8 9 5 9 4 10 5 9 5 7 5 6M313 2l-1 7 10 7 3 10 7 12 6 5 4 8 5 11 5 7 2 9 7 6 4 9 7 9 5 9 3 12 7 5 0 11 7 6 3 12 9 10 2 4 5 11 7 9 3 8 9 7 1 11 9 8 4 6 3 10 9 11 1 8 5 10M318 -2l7 12 3 5 8 8 7 9 2 12 6 11 6 8 6 4 0 12 5 7 8 8 3 9 5 9 9 8 0 8 6 9 3 9 8 9 8 10 1 11 5 5 8 11 3 8 7 10 1 5 6 13 8 8 5 8 4 6M328 -3l6 15 7 5 7 9-1 11 7 5 5 10 9 9 4 7 6 10 2 8 4 11 6 4 3 9 6 14 9 4 2 13 7 8 3 6 5 12 5 9 4 6 3 6 10 11 2 11 3 4 11 13 0 8M342 -2l0 11 9 9 3 10 6 8 6 8 5 10 4 8 5 7 6 11 1 8 6 6 4 13 5 6 7 10 6 5 3 13 5 4 8 12 3 6 4 10 9 7 5 13 6 4 2 10 4 10M350 0l6 11 6 9 3 6 4 8 5 11 6 6 7 9 1 11 5 10 7 4 7 9 5 11 3 9 6 8 3 5 5 13 5 9 9 10 3 4 4 12 7 9 5 6 1 7M358 1l8 9 5 6 5 7 4 11 4 6 4 14 7 4 4 10 7 8 3 10 5 10 4 6 10 9 5 12 2 5 3 13 8 9 7 5 1 9 4 11 8 7M368 1l9 10 3 4 5 10 6 7 2 9 4 8 9 15 1 4 5 8 6 8 5 14 7 4 6 13 2 7 8 7 4 12 2 9 10 7 3 7M378 0l6 10 3 7 11 12 3 8 2 8 7 7 4 7 6 12 5 8 7 10 6 3 2 15 3 7 7 8 3 8 5 8 5 10M388 -1l9 12 4 4 3 11 4 8 6 12 7 5 2 9 6 10 5 11 7 8 4 8 4 6 7 12 3 5 5 8M403 2l2 8 4 6 4 10 8 8 5 7 6 8 2 14 4 6 6 9 6 10 4 10 9 7 4 6M409 2l8 7 4 8 6 11 1 5 10 13 0 7 4 6 8 13 3 9 5 7 7 5M418 -1l8 9 5 11 4 6 5 7 2 14 5 5 6 11 9 8 1 10M432 1l3 8 4 10 4 8 9 9 3 7 6 10 6 6M438 3l4 6 10 6 6 9 3 13 7 5M448 -1l10 12 5 8 4 4M462 -1l4 9M0 0l-6 6M13 0l-10 9-2 9-8 8M20 1l-7 8-3 10-4 9-8 5-2 10M28 0l-4 8-6 11-4 7-3 8-5 9-6 12-6 3M41 2l-3 7-11 9 0 10-8 7-1 10-7 7-7 10-7 7-5 8M48 -1l-3 12-5 5-2 10-10 10-4 10-1 8-9 4-3 14-5 4-6 11-5 11M58 2l-5 5-2 10-5 7-8 11-2 10-5 5-5 11-9 6-2 11-5 7-7 12-3 8-8 7M71 -3l-4 14-6 9-5 8-7 5-2 10-6 9-3 11-10 5-6 13 0 9-9 5-4 10-3 5-5 9-5 11M83 3l-10 4-4 7-3 13-6 7-3 12-9 3-1 11-9 11-1 5-5 11-4 5-6 12-8 10-4 7-7 7-6 8-1 9M91 1l-5 10-7 7-6 10-4 6-3 11-6 5-3 9-6 9-5 9-8 12-5 5-3 12-3 7-10 8-3 7-2 9-8 11-2 9-6 11M98 -3l-5 14-5 4 0 14-8 4-3 10-7 10-6 7-6 8-4 10-5 11-5 4-3 11-4 8-8 9-4 7-8 9 1 9-10 11-6 7-2 9-5 6M110 -3l-3 12-5 9-7 10-7 7-2 6-6 10-2 12-10 8-4 6-6 10-1 10-4 5-9 13-5 4-7 8-2 15-7 4-3 7-6 12-7 10-2 6-4 10-7 7M118 -2l-3 8-5 14-6 8-3 7-7 8-4 8-7 9-4 10-5 9-2 6-8 9-2 8-8 12-5 7-6 10-5 10 0 4-9 10-6 12-6 6-1 11-5 9-9 8-3 8-4 10M127 0l-5 11-3 7-2 7-5 10-10 7 0 10-8 8-2 9-8 7-4 8-4 9-5 9-8 10-5 10-5 8-3 8-4 8-5 9-8 9-3 9-5 10-3 6-8 11-1 8-8 8-2 10-9 9M140 2l-7 8-5 7-6 9 0 7-6 11-3 11-9 5-5 12-3 5-9 8-5 13-2 8-7 7-5 6-1 11-5 8-6 7-5 12-8 7-5 7-4 13-7 9-2 5-7 9-4 12-5 6-3 8-5 9-5 10M150 1l-6 10-2 9-7 8-4 9-8 9-2 4-8 11-1 7-4 10-5 11-9 6-2 11-9 5-4 10-6 11-6 7-1 11-8 4-2 8-7 10-6 11-4 9-3 7-6 8-5 9-7 9-2 12-4 4-6 10-5 9-3 11M160 1l-4 6-4 10-7 6-3 11-6 8-8 12-1 7-7 11-4 5-5 8-3 13-10 6-5 8-5 10-1 5-6 12-4 9-6 8-8 9-3 7-7 10-5 8-5 11-1 10-9 4 0 8-7 12-6 6-6 10-7 9-2 11-4 6-6 6M170 -1l-7 11-3 6-3 7-8 14-3 7-4 9-5 8-7 7-3 7-6 13-6 5-7 11-4 8-3 10-7 8-5 11-4 7-7 6-2 12-5 7-8 8-4 11-6 5-3 11-3 10-7 8-5 9-5 9-3 10-8 6-1 10-11 7-4 7-3 10-8 11M183 3l-11 4-4 10-1 7-9 14-3 5-6 8-6 11-6 10-4 4-4 11-5 11-4 3-2 13-7 4-4 11-5 13-9 7 0 8-9 9-7 7-4 8 0 10-9 8-2 9-4 11-6 6-9 10-3 8-2 10-11 4-1 14-7 7-2 8-7 10-7 8-4 10-1 6M192 1l-7 10-3 8-8 9-2 4-4 12-7 8-4 7-5 10-6 10-4 5-5 9-6 12-4 6-8 9-3 8-6 13-4 6-7 7-3 12-3 4-7 12-6 8-3 8-9 13-2 7-5 10-6 9-2 4-11 9 1 9-10 9-3 9-4 8-5 10-4 6-9 11-2 9-4 10-5 4M199 -2l-3 9-5 13-8 4-5 12-2 9-5 8-9 8-2 8-7 8-5 9-1 8-7 12-6 4-7 11-1 8-5 8-5 10-3 10-10 7-2 12-7 6-6 11-5 7 0 5-7 13-4 6-8 11-6 8 0 8-9 7-4 8-8 9-3 9-2 12-9 6-5 11-2 7-9 7-1 9-6 13-3 9M209 -3l-1 10-9 8-4 12-6 5-1 8-6 10-7 11-6 11-2 6-9 8-3 7-7 9-2 10-9 9-3 10-7 6-3 9-3 9-9 12-3 7-2 7-9 12-4 6-2 8-5 8-7 13-8 5-4 12-3 5-4 12-4 4-6 12-3 8-10 6-1 13-7 8-4 5-5 13-5 9-3 8-7 10-5 4-5 8M222 -1l-10 8-2 9-3 11-5 7-6 11-8 10 0 7-7 6-8 8-3 9-3 13-10 6-3 6-3 11-4 11-9 4-2 12-7 7-1 12-9 5-3 10-5 6-7 13-7 5 0 9-7 8-3 9-8 10-2 9-9 9-2 7-3 12-10 8-6 5-3 11-5 11-2 8-4 9-7 5-4 13-6 7-6 11-7 4-5 12-4 7M232 -1l-7 7-7 11 0 9-6 6-8 11-2 11-5 4-10 11-4 7-3 9-7 11-3 8-7 7-4 9-4 9-6 11-4 4-7 13-6 7-1 10-3 7-6 7-9 10-5 11-5 10-1 4-6 9-6 12-2 5-8 12-6 8-5 8-3 9-3 7-9 10-7 7 0 10-9 9-5 12-4 6-5 7-6 12-3 8-3 5-6 13-9 7 0 8M243 2l-10 6-2 9-3 6-9 13-7 5-5 8-2 13-6 9-5 4-4 11-7 12-4 8-5 9-7 5-1 11-7 8-3 8-6 11-5 7-6 8-3 7-6 8-6 10-6 7-6 12-4 8-4 12-2 7-4 4-8 10-7 10-3 11-3 7-7 8-3 8-6 12-8 6-2 10-4 10-10 7-2 7-8 13-4 7-3 9-4 4-4 9-10 12-3 9-2 5M247 -2l-2 8-6 13-6 7-6 7-3 8-5 11-6 6-2 12-3 8-7 6-9 9-5 13-1 5-4 11-5 10-10 5-1 11-7 8-6 10-3 9-6 8-1 6-7 11-8 10-4 8-5 8-6 10-5 6-5 8-5 11-1 10-8 9-2 9-7 4-3 13-5 4-6 11-8 11-3 3-2 11-7 11-4 6-6 11-5 7-3 9-10 10-1 8-7 7-7 12-5 7 0 5M262 0l-8 11-1 6-9 10-3 10-7 9-3 4-5 13-8 4-3 12-4 5-5 10-6 10-6 7-5 11-6 7 0 7-5 9-8 14-6 6-7 6-2 9-3 8-5 11-7 10-4 10-5 5-9 10-1 7-5 8-9 13-3 6-4 9-6 10-2 6-6 13-9 7-4 4-3 11-6 12-6 7-2 6-5 10-3 8-10 7-5 13-6 5-4 14-6 7-4 8-4 8-7 10-5 4-1 10M273 -1l-5 11-11 5-1 11-3 6-8 11-5 6-7 12-4 7-2 12-4 7-6 10-5 5-4 10-10 9-2 7-6 12-5 10-6 7-6 8-4 7-7 12-1 4-9 13-2 5-2 11-6 9-5 10-5 9-7 9-8 4-1 9-6 9-6 9-2 11-4 5-7 8-7 10-1 9-11 9-5 9-5 8-4 9 0 9-10 9-2 11-6 5-7 10-1 11-6 6-4 10-4 6-9 10-7 11M277 1l-1 8-4 6-5 11-7 10-2 8-10 9-5 9-1 7-8 8-4 9-4 7-8 10-1 11-6 10-8 3-1 13-6 6-8 10-5 6-1 11-8 10-7 8-4 6-6 10-5 11-1 7-7 9-6 8-3 11-5 9-3 5-4 7-9 13-7 8 1 6-5 11-10 7-6 11-5 10-5 6-2 11-5 9-5 4-4 11-6 7-3 10-7 7-3 8-8 9-2 12-9 7-6 8 0 11M292 -1l-9 7-2 12-7 7-4 11-2 8-8 9-4 6-5 13-7 3-3 13-5 10-9 5 0 7-8 12-3 11-7 7-3 10-7 8-4 5-3 10-7 10-2 9-9 10-7 4-4 13-3 4-4 12-8 9-2 8-5 9-6 6-6 8-5 10-6 12-1 4-10 11-3 10-5 5-5 8-2 13-7 7-7 9-5 9-2 8-6 8-5 9-6 7-5 10-3 9-5 10-4 8-9 11-4 6M298 -1l-6 12-3 8-2 9-9 4-1 9-8 11-6 10-4 7-5 10-2 9-7 5-4 11-7 8-1 11-5 5-6 12-8 9-5 9-2 5-8 11-4 11-3 7-8 6-3 9-4 8-7 13-4 6-9 10-4 7-1 10-10 4-1 10-4 13-10 5-3 10-5 6-2 12-8 9-5 6-2 10-6 9-6 9-7 6-2 11-7 9-7 10-4 4-4 14-3 8-5 10-5 3-8 10-1 8M313 2l-7 9-9 4-4 13-5 4-2 13-8 6-3 11-7 9 0 9-8 10-7 4-4 10-7 11-1 7-5 7-3 7-10 14-2 6-7 6-6 14-1 6-7 6-3 14-7 7-7 9-1 4-8 13-7 10 0 7-10 10-5 5-4 10-2 11-4 7-5 9-5 10-10 9-3 7-4 8-5 6-4 11-4 9-9 9-1 8-9 7-4 12-3 8-8 5-6 11-1 10-8 8-5 10-2 8M318 -2l-6 11-2 5-2 12-8 9-8 11-1 8-7 6-7 11-1 8-4 10-6 4-8 13-4 8-5 7-3 8-3 9-8 8-2 9-10 9-1 8-7 8-5 9-6 8-5 10-2 12-10 5-2 10-5 9-7 8-5 7-4 13-3 8-7 8-3 7-8 11-5 6-2 11-4 10-6 3-4 12-7 6-6 13-6 5-1 13-9 3-5 11-4 12-4 3-6 14-4 6-4 6-8 11-3 12M328 -3l-3 13-3 6-7 8-5 9-7 10-6 7 1 12-6 9-10 6-3 9-6 8-5 8-3 8-6 13-1 10-7 4-4 11-6 8-6 8-6 11-2 4-7 11-3 11-5 7-6 6-5 11-3 7-10 8-3 10-8 7-1 9-6 10-6 9-4 8-3 10-8 10-3 7-4 12-7 3-6 9-6 11-2 7-4 10-5 11-7 8-5 5-5 11-8 9-1 7-3 9-10 9-5 8-2 12M342 -2l-8 14-6 3-3 11-7 7-5 10-1 10-7 8-8 7-3 11-4 10-4 8-8 8-4 6-2 10-10 10 0 5-4 13-8 4-3 9-5 12-8 10-4 5-6 12-4 7-4 6-8 11-1 8-8 12-4 7-3 7-6 8-7 12-6 9-3 5-8 9-4 9-4 7-5 13-4 9-5 4-3 14-7 8-7 7-2 8-7 11-7 9 1 7-7 8-6 5-7 12-4 8-1 11-10 6M350 0l-8 9-1 8-5 6-4 15-6 3-4 9-6 12-5 5-8 10-3 10-6 9-2 10-10 4 0 8-9 9-3 10-3 10-7 8-3 7-10 13-5 8-1 7-7 8-4 9-3 11-7 9-4 10-5 8-9 4-4 8-3 13-7 4 0 11-7 7-7 11-5 9-3 6-8 12-4 10-6 4-4 12-7 9 1 8-10 6-2 12-3 10-8 8-8 7-2 6-6 12-6 5-2 10-7 10M358 1l-2 10-5 7-3 8-5 6-5 11-8 8-3 9-7 9-5 11-5 9-3 7-10 7-1 7-8 11-4 10-5 7-1 7-8 14-2 6-11 9-2 8-5 6-4 13-4 5-5 13-8 7-5 8-7 6-1 9-4 11-5 11-5 6-8 6-6 10 0 11-8 8-4 11-9 4-4 10-3 7-5 11-5 7-5 11-4 7-7 12-4 8-4 6-6 9-7 9-2 6-5 14-3 9-6 9M368 1l-2 9-4 10-8 8-7 9-2 7-3 7-5 11-4 8-6 9-8 5-6 10-4 8-5 10-5 8-1 8-7 12-4 8-8 9-5 8-4 11-6 4-4 11-5 10-2 9-8 9-4 7-6 8-8 10-5 9 0 4-7 10-7 8-5 12-3 8-3 6-4 13-7 7-3 6-6 8-5 12-9 10-5 5-2 12-5 7-7 11-3 6-9 10-4 6-3 9-7 11-2 10-5 5-4 12M378 0l-1 11-6 5-6 10-5 10-6 6-3 13-4 7-5 6-9 12-2 9-3 7-5 5-8 9-2 9-9 8-5 12-5 10-3 5-4 13-6 3-3 13-5 8-11 8 0 7-6 10-9 10-4 9-5 6-4 13-6 5-4 8-2 12-5 4-10 14-4 7-1 10-5 9-6 6-6 9-3 9-9 6-3 10-3 8-6 10-8 11-5 7-2 9-6 7-4 8-7 11-6 8-6 9 1 9M388 -1l-4 11-4 5-4 8-7 11-3 10-7 8-2 11-5 6-5 9-6 9-7 9-4 9-4 6-8 9-3 10-6 7-4 10-6 7-5 8-1 13-6 4-9 10-4 8-4 14-6 5-6 6-1 13-6 9-6 5-7 8-2 11-9 10-3 9-2 7-8 7-6 9-1 13-10 8-1 9-8 5-4 8-3 9-4 8-9 10-2 8-6 11-7 9-2 9-5 5-6 9-6 13-4 8-4 5M403 2l-6 9-10 6-2 8-5 9-6 11-3 9-3 7-5 6-9 11-2 7-9 13 0 4-7 12-5 6-7 9-2 8-5 8-5 9-9 12-3 4-3 10-8 12-2 5-8 9-7 8-2 8-6 14-5 6-3 8-8 11-2 5-8 11-5 11-5 8-6 4-2 13-5 5-8 13-1 5-4 11-9 6-2 11-8 8-2 11-5 5-9 9-4 12-4 7-2 8-6 12-5 6-3 10-9 7M409 2l-4 8-4 5-3 14-7 3-7 8-4 11-5 11-3 6-9 11-2 5-6 11-5 10-7 6-6 11 0 10-9 6-4 10-4 7-4 11-5 7-8 9 0 11-10 8-2 5-4 9-10 10-2 7-6 11-2 9-9 6-1 13-6 3-7 12-1 7-9 10-3 8-5 10-4 8-9 9-2 9-6 6-3 13-9 7-4 7-5 9-6 11-2 8-7 9-6 6-5 11-1 10-9 9-5 8M418 -1l-1 10-8 7-5 10-3 11-8 4-5 13-1 6-7 9-2 9-10 8-3 7-8 9-3 12-5 6-5 9-3 8-9 11 0 10-9 7-2 11-5 4-3 13-5 9-7 4-5 12-6 5-4 11-7 8-2 6-7 11-7 10 0 7-10 9-1 11-8 7-1 8-6 10-7 5-6 12-7 7-1 11-8 11-4 8-4 6-6 8-4 8-8 9-4 10-2 6-5 12-8 7-2 7-7 9M432 1l-6 7-5 9-8 9-5 8-5 11-6 4-2 9-7 13-2 9-6 6-4 8-4 8-8 10-4 10-4 9-5 8-4 8-6 9-9 6 1 9-6 11-5 11-8 9-1 5-7 10-3 10-8 10-7 4-6 12-4 7-5 6-5 13-3 5-2 9-9 7-7 9-3 8-3 9-8 13-3 9-4 7-6 8-5 11-4 9-8 6-1 9-6 7-5 12-4 6-7 10-7 9-5 11-6 6M438 3l-3 6-4 10-4 9-6 6-7 12-4 6-4 12-7 4-6 13-6 7-3 9-5 6-2 8-7 11-2 7-7 8-8 12-5 9-4 9-2 6-5 11-10 6-4 10-5 9-4 6-4 11-5 11-6 3-6 9-3 10-6 8-6 7-2 9-8 9-2 10-8 11-1 8-7 11-6 3-1 12-7 7-7 11-1 7-6 11-9 8-4 7-7 8-2 12-6 4-1 13-10 8-1 9-8 10M448 -1l-6 10-3 10-4 6-7 8-2 8-5 10-7 8-7 9-1 8-6 9-7 9-3 7-6 11-4 11-4 7-8 6-1 13-9 6-2 12-4 5-6 9-5 11-3 5-9 11-6 9-4 11-5 7-5 8-7 6-2 8-4 12-5 8-5 11-8 9-3 5-3 7-4 12-7 6-8 13-4 4-4 12-5 9-3 7-6 12-7 7-7 5 0 12-4 9-8 10-5 8-6 4-3 8-5 12M462 -1l-4 12-6 4-9 12-3 5-2 14-6 3-9 11-3 11-8 5-3 10-2 8-10 13-4 3 0 10-6 8-8 10-4 12-6 7-7 7-2 9-2 10-7 8-8 9-3 10-4 9-8 5-6 9-3 7-4 14-4 4-5 13-4 8-8 5-2 10-8 6-6 10-1 12-6 8-4 10-7 6-7 10-4 10-5 4-4 11-5 12-8 8-4 4-4 9-6 8-2 13-4 4-4 10-10 7M466 8l-3 11-5 5-6 12-10 10-4 7-4 10-5 7-4 9-7 5-4 12-2 9-10 8-3 11-6 4-6 11 0 6-6 10-9 8-4 9-4 12-1 4-6 13-7 6-6 12-6 8-2 8-4 7-8 8-5 7-7 9-4 8-5 9-5 11-4 8-2 12-4 6-9 11-5 10-1 4-7 13-7 8-3 9-5 5-4 11-5 8-5 10-6 4-6 12-2 5-9 12-2 9-6 9M467 23l-6 14-6 6-8 8-5 8-4 10-4 12-2 8-9 9-5 4-3 12-6 9-1 5-9 9-5 8-2 14-9 8-2 4-5 9-6 13-2 6-11 9 0 7-7 10-3 8-7 8-3 8-5 11-10 8-1 9-4 9-9 9-5 5-4 9-2 11-7 9-7 10-5 4-2 12-6 8-4 8-4 10-5 11-4 7-7 6-8 8-5 10-5 8-6 12-2 7-5 9M468 42l-7 11-8 9-3 10-6 6-3 11-3 3-8 10-2 9-7 11-6 6-5 13-8 5-5 11-3 7-6 11-5 4-6 9-3 9-5 11-1 9-9 10-5 6-2 11-6 8-7 8-2 10-8 10-7 5-1 11-6 4-2 15-11 4-2 9-2 8-11 12 0 6-7 10-5 8-5 9-2 8-7 7-4 8-6 11-5 8-4 13-6 3-3 13-9 9M467 59l-5 11-9 11-3 7-5 9-5 10-4 8-3 8-9 4-6 14-1 8-7 6-4 12-5 6-6 7-3 13-8 9-3 6-3 10-9 9-4 4-4 12-3 5-5 10-8 13-7 7-2 7-6 9-3 8-6 10-7 11-5 8-7 4 0 9-8 11-4 9-6 10-5 4-3 9-6 12-7 7 0 12-11 8-4 7-2 6-7 13-7 5M463 80l-5 8-4 10-5 5-6 11-5 8-3 6-6 12-6 5-3 10-2 10-10 6-4 9-7 8-5 9-4 11-4 7-3 10-7 10-3 7-6 8-6 11-5 5-7 14-5 5-2 9-5 9-4 10-7 6-5 12-6 9-6 7-1 9-3 9-11 7-3 9-5 8-5 10-1 5-8 11-3 11-5 8-7 5-7 10-1 9M465 93l-2 12-7 10-6 7-4 7-8 12-4 8-3 8-6 10-6 9-6 6-1 10-8 4-4 13-5 7-6 9-6 8-4 9-2 8-8 11-3 5-3 12-9 11-4 7-8 5-2 9-4 8-7 9-3 11-8 9-5 11-5 9-3 3-2 9-7 8-7 12-6 9-4 5-2 10-6 12-7 6-5 7-5 11M467 111l-8 9-6 10-3 11-4 9-3 9-9 4-4 13-6 5-4 10-6 6-1 10-11 12-2 5-3 12-7 6-4 7-4 8-9 9-4 12-5 10-3 5-4 10-7 10-6 7-7 12-4 7-1 9-4 7-11 6-1 10-4 13-5 3-9 11-1 8-9 12-4 7-1 6-8 12-6 4-5 14M464 128l-6 10-6 12 1 5-7 8-8 10-4 9-2 10-9 7-3 6-5 11-4 9-8 7-3 11-5 11-6 5-6 7-1 13-5 7-7 6-5 10-6 11-6 8-1 11-9 4-4 11-1 9-6 6-8 9-2 9-7 10-5 9-8 10-3 4-3 12-3 7-5 9-5 11-10 7M463 148l-1 9-8 7-4 11-3 5-10 8-2 12-3 6-6 9-7 12-6 4-1 14-9 5-1 12-7 4-8 11-4 11-6 6 0 9-9 12-3 7-4 4-5 13-7 9-5 5-7 9-1 10-9 11 0 7-10 7 1 12-5 6-8 8-4 12-7 5-4 8-4 10M465 164l-7 11-1 9-5 9-5 6-5 11-9 7-3 8-3 10-9 5 0 12-7 10-5 8-8 7-5 9-4 6-2 13-9 5-4 13-6 3-1 14-8 9-7 7-2 10-4 6-9 8-4 11-2 5-6 9-3 10-9 7-4 10-3 9-7 11-3 6M466 182l-4 8-4 7-9 13-6 5-1 10-8 9-5 6-7 9-4 10-4 7-1 13-10 4-6 11 0 10-4 10-10 7-2 9-8 7-2 12-5 7-9 6 0 11-4 9-10 8-3 11-4 7-3 5-11 12 0 10-9 5-4 8-3 9M463 197l-3 10-8 7-3 14-3 3-4 12-9 7-1 11-6 9-8 7-4 7-1 12-7 7-3 11-10 4 0 10-10 10-4 11-2 6-10 6-4 11-1 11-8 9-3 8-4 9-7 8-7 10 0 4-8 13-5 7-6 8M464 217l-1 10-6 9-8 5-2 11-9 11-1 6-8 6-1 11-11 7-2 11-3 10-8 9-6 4-6 13-2 5-4 11-7 8-5 7-6 10-3 7-3 13-7 9-8 8 1 4-7 12-6 10-7 6-2 9M463 235l-1 9-4 8-7 10-6 9-4 8-4 10-8 4-4 12-5 4-6 11-6 6-2 14-5 5-5 10-3 10-5 7-10 8-4 12-5 6-4 9-6 10-1 8-5 9-8 8-5 10-8 7M466 250l-7 10-3 11-7 6-2 10-9 8-1 5-6 14-6 5-5 10-5 11-7 4-2 11-4 9-6 6-6 13-6 5-2 8-6 13-9 4-5 11-3 7-5 10-5 12-2 5M464 270l-3 8-6 9-3 7-5 10-5 5-7 9-6 14-2 8-6 5-8 11-1 9-6 5-7 12-4 9-5 6-4 13-8 7-4 6-6 9-2 7-7 13-6 8M466 284l-8 8-2 14-9 7-3 6-5 12-2 5-9 12-2 7-8 8-5 7-5 10 0 7-8 13-6 9-1 9-11 5-2 9-5 8-8 13-4 4M462 303l-2 11-3 8-7 5-6 8-6 13 0 7-8 6-8 14-5 7-3 9-2 7-5 8-7 7-8 11-4 7-4 10-4 7-8 12M466 321l-9 9 0 8-8 8-6 9 0 9-5 8-7 10-6 9-4 5-9 12 0 8-7 7-4 12-8 7-1 11-5 8M468 336l-5 12-9 5-6 11-6 10-2 10-4 3-5 14-5 9-4 6-4 11-10 6-6 7-4 13-2 8M467 353l-5 9-6 8-5 11-9 7-1 10-6 10-5 6-5 12-2 6-9 8-1 9-6 9M467 370l-5 9-8 9-4 10-3 7-9 8-4 13-4 9-3 8-5 9-8 10M464 387l-6 10-2 10-6 7-3 9-10 12 0 4-7 11-2 10M463 406l0 7-7 10-4 11-9 7-4 11-3 6M463 424l-4 9-4 11-3 9-9 5M467 444l-10 7-4 9" vector-effect="non-scaling-stroke"/><path id="md" d="M0 0h0M13 0h0M20 1h0M28 0h0M41 2h0M48 -1h0M58 2h0M71 -3h0M83 3h0M91 1h0M98 -3h0M110 -3h0M118 -2h0M127 0h0M140 2h0M150 1h0M160 1h0M170 -1h0M183 3h0M192 1h0M199 -2h0M209 -3h0M222 -1h0M232 -1h0M243 2h0M247 -2h0M262 0h0M273 -1h0M277 1h0M292 -1h0M298 -1h0M313 2h0M318 -2h0M328 -3h0M342 -2h0M350 0h0M358 1h0M368 1h0M378 0h0M388 -1h0M403 2h0M409 2h0M418 -1h0M432 1h0M438 3h0M448 -1h0M462 -1h0M-6 6h0M3 9h0M13 9h0M24 8h0M38 9h0M45 11h0M53 7h0M67 11h0M73 7h0M86 11h0M93 11h0M107 9h0M115 6h0M122 11h0M133 10h0M144 11h0M156 7h0M163 10h0M172 7h0M185 11h0M196 7h0M208 7h0M212 7h0M225 6h0M233 8h0M245 6h0M254 11h0M268 10h0M276 9h0M283 6h0M292 11h0M306 11h0M312 9h0M325 10h0M334 12h0M342 9h0M356 11h0M366 10h0M377 11h0M384 10h0M397 11h0M405 10h0M417 9h0M426 8h0M435 9h0M442 9h0M458 11h0M466 8h0M1 18h0M10 19h0M18 19h0M27 18h0M40 16h0M51 17h0M61 20h0M69 14h0M79 18h0M88 15h0M102 18h0M110 20h0M119 18h0M128 17h0M142 20h0M152 17h0M160 16h0M168 17h0M182 19h0M191 20h0M199 15h0M210 16h0M218 17h0M231 17h0M239 19h0M253 17h0M257 15h0M272 15h0M281 18h0M289 19h0M297 15h0M310 14h0M322 16h0M328 15h0M341 17h0M351 18h0M362 20h0M371 16h0M380 15h0M387 17h0M401 15h0M409 16h0M421 17h0M431 19h0M439 19h0M452 15h0M463 19h0M-7 26h0M6 28h0M14 26h0M27 28h0M38 26h0M46 24h0M56 28h0M66 27h0M73 28h0M88 29h0M95 28h0M104 28h0M117 25h0M122 26h0M135 28h0M145 23h0M157 23h0M167 24h0M174 28h0M183 24h0M195 27h0M207 27h0M218 26h0M228 23h0M233 26h0M244 27h0M256 26h0M267 26h0M274 25h0M287 28h0M293 28h0M308 26h0M315 24h0M325 26h0M336 23h0M348 26h0M354 28h0M365 26h0M376 23h0M385 25h0M398 29h0M404 26h0M413 26h0M427 28h0M435 25h0M443 27h0M458 24h0M467 23h0M-2 33h0M11 34h0M19 35h0M28 36h0M38 35h0M49 33h0M60 34h0M69 34h0M80 33h0M88 35h0M101 35h0M112 35h0M122 33h0M131 37h0M142 34h0M149 37h0M158 38h0M172 32h0M178 36h0M189 32h0M202 34h0M212 32h0M219 36h0M227 33h0M241 37h0M253 32h0M260 36h0M270 36h0M278 32h0M288 32h0M300 35h0M310 33h0M318 33h0M332 38h0M343 32h0M347 37h0M360 36h0M369 34h0M380 34h0M391 32h0M401 37h0M408 34h0M421 34h0M428 33h0M440 32h0M452 36h0M461 37h0M-4 43h0M6 43h0M18 45h0M24 46h0M36 45h0M47 43h0M57 46h0M66 45h0M77 43h0M86 41h0M94 43h0M102 42h0M116 44h0M123 46h0M136 42h0M146 44h0M155 43h0M168 44h0M176 45h0M188 40h0M196 45h0M204 43h0M212 41h0M224 41h0M234 46h0M245 43h0M258 44h0M268 44h0M277 41h0M286 45h0M292 46h0M303 43h0M313 43h0M326 41h0M338 43h0M345 44h0M354 42h0M366 44h0M374 45h0M384 40h0M393 41h0M403 45h0M414 46h0M426 41h0M438 46h0M442 46h0M455 43h0M468 42h0M0 55h0M11 52h0M23 54h0M31 50h0M41 52h0M48 49h0M60 50h0M70 53h0M80 51h0M90 51h0M102 52h0M113 55h0M121 50h0M128 54h0M142 53h0M149 51h0M161 52h0M171 53h0M182 50h0M188 55h0M202 54h0M207 49h0M219 52h0M231 50h0M240 49h0M248 53h0M260 53h0M269 52h0M278 51h0M291 54h0M297 50h0M312 53h0M322 50h0M330 51h0M342 51h0M351 55h0M359 52h0M371 54h0M380 51h0M388 54h0M397 49h0M410 52h0M421 51h0M432 49h0M438 53h0M447 51h0M461 53h0M-6 58h0M4 62h0M14 58h0M26 61h0M38 63h0M47 60h0M57 59h0M64 60h0M78 63h0M83 60h0M94 60h0M104 60h0M113 61h0M127 61h0M137 61h0M143 62h0M157 59h0M162 61h0M175 61h0M188 62h0M197 58h0M205 62h0M213 58h0M226 63h0M233 61h0M243 62h0M256 59h0M263 62h0M275 62h0M284 60h0M298 62h0M305 61h0M316 62h0M327 60h0M337 62h0M347 62h0M357 63h0M368 61h0M375 62h0M387 60h0M395 58h0M406 64h0M414 59h0M423 60h0M434 63h0M442 59h0M453 62h0M467 59h0M-3 69h0M11 72h0M17 67h0M28 68h0M38 71h0M51 68h0M58 68h0M68 71h0M79 70h0M92 69h0M99 72h0M112 68h0M120 72h0M130 68h0M137 72h0M152 69h0M160 69h0M169 72h0M181 68h0M187 69h0M199 71h0M211 70h0M218 67h0M229 68h0M242 69h0M251 72h0M259 69h0M268 71h0M277 71h0M292 71h0M297 68h0M311 67h0M320 69h0M333 70h0M342 68h0M352 69h0M363 67h0M372 68h0M380 69h0M388 71h0M399 68h0M407 68h0M420 71h0M429 70h0M438 69h0M450 72h0M462 70h0M-8 77h0M6 76h0M15 78h0M22 81h0M37 76h0M46 77h0M54 78h0M64 77h0M74 79h0M84 76h0M96 77h0M108 78h0M116 77h0M127 75h0M133 76h0M146 79h0M153 77h0M167 78h0M173 76h0M183 76h0M194 75h0M208 78h0M215 79h0M227 80h0M234 77h0M244 75h0M254 79h0M268 80h0M276 79h0M282 77h0M294 79h0M303 77h0M315 80h0M327 79h0M333 80h0M347 78h0M354 78h0M363 79h0M378 78h0M386 80h0M393 81h0M406 76h0M412 76h0M425 79h0M434 81h0M444 78h0M453 81h0M463 80h0M0 87h0M10 85h0M22 90h0M32 87h0M38 89h0M49 89h0M58 87h0M72 85h0M80 84h0M87 85h0M103 89h0M111 85h0M121 88h0M129 87h0M142 84h0M148 86h0M158 86h0M170 85h0M180 85h0M190 86h0M201 84h0M211 84h0M223 87h0M230 86h0M241 88h0M252 88h0M260 90h0M272 89h0M279 86h0M290 89h0M300 87h0M310 89h0M319 84h0M331 89h0M341 87h0M352 85h0M361 84h0M368 86h0M380 86h0M387 88h0M400 85h0M409 86h0M418 84h0M432 89h0M441 89h0M450 88h0M458 88h0M-5 98h0M3 97h0M13 95h0M28 92h0M33 94h0M44 93h0M57 97h0M64 94h0M76 93h0M82 98h0M94 95h0M108 98h0M115 93h0M124 98h0M137 93h0M147 94h0M155 93h0M167 98h0M173 96h0M183 98h0M192 93h0M206 94h0M217 97h0M226 93h0M236 98h0M245 93h0M253 94h0M266 93h0M273 94h0M286 97h0M294 96h0M307 96h0M313 94h0M328 96h0M334 96h0M343 98h0M355 95h0M365 93h0M376 94h0M384 97h0M393 94h0M407 94h0M414 96h0M423 98h0M438 92h0M445 97h0M454 98h0M465 93h0M0 105h0M9 105h0M22 104h0M30 106h0M41 104h0M53 102h0M62 102h0M71 102h0M80 106h0M92 106h0M98 104h0M108 104h0M120 101h0M131 105h0M140 106h0M148 102h0M157 104h0M170 104h0M179 106h0M187 106h0M200 104h0M212 102h0M218 103h0M227 103h0M241 104h0M249 104h0M258 106h0M268 102h0M278 105h0M292 106h0M297 103h0M309 102h0M323 101h0M330 105h0M343 102h0M350 105h0M357 102h0M372 102h0M379 103h0M390 101h0M397 107h0M412 105h0M418 102h0M430 102h0M440 107h0M449 103h0M463 105h0M-8 112h0M6 110h0M14 114h0M27 113h0M37 112h0M44 115h0M54 114h0M63 112h0M73 113h0M83 111h0M93 112h0M104 112h0M118 114h0M127 111h0M134 110h0M146 112h0M154 110h0M163 111h0M174 115h0M186 111h0M194 111h0M208 112h0M217 114h0M227 110h0M234 112h0M242 115h0M254 114h0M265 110h0M274 111h0M282 110h0M296 110h0M304 112h0M315 110h0M326 111h0M336 114h0M343 111h0M354 114h0M364 112h0M377 111h0M384 112h0M393 110h0M402 113h0M415 114h0M428 111h0M436 115h0M443 114h0M456 115h0M467 111h0M1 119h0M10 121h0M17 121h0M29 121h0M39 119h0M49 121h0M58 122h0M68 119h0M79 121h0M88 122h0M101 122h0M111 118h0M119 120h0M127 121h0M137 121h0M151 121h0M159 120h0M167 120h0M182 122h0M189 122h0M198 121h0M211 124h0M219 122h0M233 123h0M241 122h0M249 121h0M259 123h0M272 121h0M282 118h0M288 121h0M299 120h0M313 119h0M318 120h0M331 120h0M337 122h0M349 120h0M360 122h0M370 122h0M380 123h0M393 120h0M399 124h0M409 123h0M421 122h0M433 123h0M438 122h0M450 122h0M459 120h0M-4 130h0M3 128h0M14 128h0M25 128h0M32 127h0M43 131h0M53 130h0M67 130h0M73 132h0M87 127h0M94 130h0M107 129h0M116 128h0M126 129h0M134 131h0M147 132h0M155 129h0M166 131h0M177 132h0M183 129h0M196 128h0M203 127h0M216 133h0M228 128h0M236 129h0M246 129h0M258 133h0M262 131h0M273 127h0M284 131h0M298 128h0M304 127h0M315 130h0M324 129h0M337 132h0M344 129h0M356 131h0M368 129h0M376 130h0M387 128h0M393 128h0M408 128h0M415 128h0M424 127h0M435 128h0M446 129h0M453 130h0M464 128h0M-3 136h0M12 137h0M17 137h0M30 142h0M38 141h0M50 138h0M62 138h0M67 139h0M81 139h0M89 141h0M102 142h0M110 141h0M121 137h0M127 137h0M138 136h0M149 140h0M159 139h0M167 137h0M183 136h0M190 140h0M202 140h0M209 140h0M222 140h0M233 136h0M243 138h0M251 137h0M262 136h0M270 137h0M279 138h0M291 140h0M299 139h0M309 137h0M322 137h0M328 138h0M341 137h0M351 139h0M361 137h0M368 136h0M379 138h0M387 139h0M399 137h0M410 141h0M418 141h0M429 140h0M438 141h0M450 141h0M458 138h0M-4 145h0M4 148h0M18 146h0M23 146h0M38 145h0M46 146h0M56 145h0M66 150h0M77 148h0M85 148h0M93 149h0M106 147h0M116 147h0M124 146h0M136 148h0M145 144h0M156 147h0M166 148h0M178 145h0M185 150h0M196 146h0M206 150h0M214 149h0M223 150h0M235 146h0M247 148h0M258 149h0M267 147h0M278 145h0M287 148h0M294 149h0M305 147h0M317 145h0M324 148h0M332 148h0M347 147h0M353 149h0M367 149h0M375 150h0M387 145h0M394 145h0M402 146h0M417 149h0M423 145h0M434 149h0M446 150h0M452 150h0M463 148h0M2 157h0M8 157h0M20 153h0M29 155h0M41 155h0M51 157h0M58 154h0M71 156h0M78 154h0M93 157h0M99 154h0M113 157h0M121 155h0M129 155h0M138 157h0M150 158h0M159 156h0M170 159h0M179 157h0M188 156h0M199 158h0M209 158h0M221 156h0M233 155h0M241 156h0M250 153h0M260 155h0M270 159h0M279 157h0M291 154h0M299 154h0M312 154h0M320 155h0M332 158h0M341 156h0M348 158h0M358 155h0M369 157h0M381 155h0M392 159h0M397 157h0M410 155h0M420 155h0M431 157h0M443 159h0M453 155h0M462 157h0M-4 168h0M2 164h0M14 165h0M23 167h0M33 164h0M43 164h0M56 162h0M63 165h0M76 166h0M84 166h0M96 166h0M103 164h0M112 167h0M128 167h0M132 164h0M145 165h0M153 166h0M164 165h0M173 165h0M183 162h0M195 163h0M207 163h0M214 162h0M223 164h0M235 164h0M247 162h0M257 162h0M268 165h0M274 165h0M287 167h0M294 162h0M303 166h0M316 166h0M323 165h0M332 162h0M344 167h0M356 167h0M362 164h0M372 163h0M383 167h0M394 164h0M406 167h0M418 165h0M425 167h0M434 163h0M446 163h0M454 164h0M465 164h0M0 173h0M7 175h0M17 173h0M30 173h0M38 171h0M49 172h0M60 172h0M71 173h0M77 173h0M93 170h0M101 176h0M109 174h0M119 172h0M131 174h0M139 173h0M150 175h0M157 171h0M169 172h0M182 173h0M192 173h0M199 174h0M208 176h0M222 172h0M229 175h0M242 174h0M247 175h0M257 174h0M270 176h0M281 170h0M293 175h0M300 170h0M311 173h0M321 176h0M333 171h0M342 173h0M352 172h0M360 173h0M368 172h0M381 171h0M388 175h0M401 173h0M408 171h0M419 176h0M430 176h0M438 173h0M450 175h0M458 175h0M-5 179h0M5 181h0M16 184h0M25 183h0M34 184h0M43 183h0M53 182h0M63 181h0M73 181h0M86 182h0M94 182h0M107 181h0M116 182h0M128 181h0M136 180h0M144 183h0M155 180h0M162 184h0M174 183h0M185 183h0M195 185h0M207 182h0M215 180h0M227 179h0M234 184h0M242 183h0M255 182h0M264 180h0M278 183h0M287 179h0M297 180h0M303 182h0M316 180h0M327 182h0M337 184h0M346 181h0M358 183h0M364 184h0M376 180h0M383 179h0M395 180h0M404 180h0M413 182h0M424 181h0M434 182h0M447 180h0M457 184h0M466 182h0M1 191h0M11 193h0M22 189h0M27 193h0M39 192h0M48 190h0M59 192h0M73 191h0M80 190h0M88 193h0M98 193h0M111 188h0M122 188h0M130 188h0M143 189h0M152 188h0M161 188h0M167 191h0M183 192h0M192 192h0M200 188h0M210 189h0M220 190h0M230 189h0M241 190h0M250 188h0M260 191h0M273 191h0M278 189h0M289 192h0M303 193h0M313 193h0M322 193h0M327 190h0M341 192h0M351 191h0M363 188h0M370 193h0M377 188h0M392 193h0M397 188h0M412 192h0M420 191h0M432 192h0M437 188h0M452 193h0M462 190h0M-6 198h0M2 201h0M14 200h0M25 198h0M36 199h0M43 201h0M53 197h0M64 199h0M77 198h0M83 200h0M94 199h0M104 201h0M113 198h0M124 198h0M136 200h0M147 199h0M152 201h0M163 197h0M174 202h0M184 198h0M197 202h0M204 197h0M217 201h0M224 201h0M234 198h0M246 201h0M255 201h0M262 199h0M274 197h0M287 197h0M293 201h0M308 202h0M314 202h0M323 200h0M338 197h0M343 200h0M357 201h0M368 199h0M374 197h0M384 202h0M392 197h0M404 196h0M414 197h0M423 199h0M435 200h0M447 199h0M458 197h0M463 197h0M-1 209h0M13 208h0M18 207h0M30 207h0M42 211h0M50 208h0M62 208h0M68 211h0M83 205h0M92 207h0M97 206h0M108 209h0M118 205h0M128 210h0M140 209h0M150 206h0M157 207h0M167 206h0M181 207h0M190 209h0M199 207h0M212 208h0M220 208h0M230 207h0M242 206h0M253 210h0M262 206h0M270 211h0M279 206h0M291 206h0M301 206h0M313 207h0M318 209h0M329 208h0M340 210h0M350 207h0M357 208h0M369 208h0M381 208h0M388 208h0M400 209h0M413 207h0M420 205h0M432 206h0M442 210h0M449 210h0M460 207h0M-5 219h0M5 216h0M14 219h0M25 216h0M33 215h0M47 218h0M58 219h0M66 218h0M76 218h0M87 215h0M97 215h0M103 219h0M112 217h0M124 218h0M136 219h0M148 217h0M152 218h0M163 219h0M177 215h0M183 218h0M197 219h0M206 214h0M216 214h0M227 218h0M237 219h0M245 219h0M256 216h0M264 216h0M272 214h0M287 215h0M296 218h0M306 217h0M314 215h0M323 217h0M336 219h0M344 219h0M357 215h0M368 217h0M378 218h0M384 215h0M395 216h0M402 219h0M415 216h0M426 215h0M433 217h0M443 215h0M452 214h0M464 217h0M3 226h0M9 225h0M18 225h0M33 223h0M40 226h0M52 225h0M61 228h0M72 224h0M80 228h0M90 223h0M102 223h0M108 225h0M119 226h0M131 224h0M142 226h0M151 225h0M160 223h0M170 228h0M182 222h0M187 224h0M201 225h0M208 225h0M220 227h0M229 226h0M241 226h0M247 226h0M258 222h0M270 222h0M277 225h0M290 223h0M303 227h0M310 226h0M319 228h0M328 224h0M338 227h0M350 225h0M359 227h0M369 227h0M381 225h0M389 225h0M400 224h0M411 225h0M419 227h0M430 225h0M442 225h0M449 228h0M463 227h0M-6 235h0M6 233h0M16 237h0M26 235h0M35 235h0M43 235h0M55 237h0M64 235h0M72 233h0M87 232h0M96 232h0M104 237h0M113 236h0M122 234h0M137 236h0M144 234h0M156 235h0M166 234h0M174 235h0M185 234h0M198 232h0M207 233h0M216 237h0M224 234h0M235 234h0M243 235h0M257 235h0M264 236h0M275 232h0M286 234h0M295 237h0M305 237h0M314 235h0M322 233h0M336 235h0M347 233h0M354 233h0M365 231h0M374 235h0M383 233h0M397 236h0M403 232h0M413 231h0M427 235h0M434 234h0M446 231h0M457 236h0M463 235h0M1 242h0M12 241h0M20 241h0M30 244h0M40 243h0M53 241h0M58 243h0M68 245h0M79 242h0M90 244h0M102 244h0M108 242h0M121 241h0M132 245h0M138 242h0M148 244h0M157 244h0M167 245h0M180 243h0M188 240h0M199 245h0M211 245h0M217 240h0M227 244h0M238 241h0M251 244h0M259 242h0M269 243h0M279 242h0M288 241h0M299 240h0M309 243h0M319 240h0M332 242h0M340 241h0M352 244h0M361 243h0M371 242h0M379 242h0M390 242h0M400 243h0M412 245h0M418 240h0M429 240h0M442 243h0M449 241h0M462 244h0M-4 252h0M6 251h0M14 251h0M27 254h0M38 253h0M42 250h0M58 251h0M65 250h0M77 251h0M88 249h0M98 248h0M103 250h0M116 249h0M125 254h0M135 253h0M146 252h0M153 251h0M167 252h0M173 251h0M185 250h0M195 252h0M202 249h0M216 249h0M222 253h0M234 254h0M245 249h0M256 250h0M267 252h0M277 248h0M282 253h0M293 249h0M302 249h0M315 254h0M324 250h0M337 249h0M346 252h0M358 248h0M365 250h0M377 250h0M386 249h0M395 254h0M403 250h0M418 252h0M422 249h0M433 250h0M447 252h0M458 252h0M466 250h0M1 260h0M7 260h0M19 260h0M27 257h0M43 259h0M49 258h0M61 262h0M68 260h0M80 261h0M90 258h0M98 261h0M107 262h0M117 258h0M130 262h0M141 261h0M152 261h0M157 262h0M168 258h0M177 257h0M192 259h0M198 257h0M212 260h0M222 257h0M228 259h0M238 257h0M248 261h0M258 258h0M270 259h0M278 260h0M290 259h0M300 257h0M311 258h0M319 257h0M332 260h0M339 260h0M353 258h0M359 261h0M369 261h0M382 257h0M389 259h0M402 262h0M411 262h0M418 259h0M432 261h0M438 263h0M451 262h0M459 260h0M-2 271h0M5 271h0M18 270h0M26 271h0M33 268h0M45 266h0M57 266h0M66 267h0M74 269h0M83 268h0M97 271h0M104 268h0M116 267h0M127 267h0M135 267h0M142 265h0M152 267h0M164 271h0M176 266h0M186 267h0M195 270h0M207 271h0M215 267h0M224 267h0M236 268h0M246 266h0M257 271h0M263 269h0M273 266h0M284 267h0M296 269h0M306 271h0M312 266h0M322 268h0M337 270h0M345 271h0M354 266h0M366 266h0M373 266h0M383 266h0M395 266h0M406 270h0M414 266h0M426 270h0M437 269h0M445 271h0M456 271h0M464 270h0M1 277h0M7 277h0M19 278h0M30 277h0M37 275h0M51 278h0M63 279h0M69 277h0M80 279h0M89 280h0M100 277h0M110 276h0M123 274h0M129 275h0M141 275h0M148 277h0M161 279h0M170 276h0M179 279h0M188 274h0M202 277h0M208 275h0M222 279h0M227 278h0M238 277h0M251 274h0M263 276h0M268 279h0M278 274h0M291 277h0M302 279h0M308 274h0M321 277h0M329 280h0M338 278h0M347 280h0M363 278h0M369 278h0M382 279h0M387 277h0M398 277h0M413 279h0M418 277h0M429 275h0M441 279h0M449 277h0M461 278h0M-5 283h0M3 284h0M17 286h0M26 285h0M34 284h0M48 286h0M53 287h0M66 286h0M77 286h0M87 289h0M94 287h0M104 285h0M114 287h0M124 285h0M137 288h0M146 288h0M154 287h0M164 285h0M173 288h0M188 285h0M194 283h0M203 287h0M217 283h0M224 287h0M233 288h0M244 286h0M253 285h0M265 284h0M276 283h0M286 288h0M294 284h0M303 283h0M317 286h0M322 285h0M336 285h0M342 285h0M354 289h0M364 288h0M377 286h0M383 288h0M393 286h0M403 283h0M414 284h0M428 286h0M437 289h0M447 287h0M455 287h0M466 284h0M0 294h0M10 296h0M21 295h0M32 296h0M38 292h0M47 292h0M63 293h0M70 294h0M80 293h0M92 293h0M102 296h0M107 295h0M118 297h0M127 293h0M142 295h0M151 294h0M160 293h0M170 293h0M181 292h0M188 293h0M200 295h0M207 297h0M222 294h0M228 296h0M243 293h0M252 296h0M263 293h0M268 292h0M278 297h0M292 294h0M298 294h0M308 295h0M321 296h0M330 294h0M340 294h0M350 296h0M361 293h0M370 292h0M377 294h0M389 292h0M397 294h0M413 296h0M417 293h0M429 293h0M438 295h0M452 294h0M458 292h0M-8 305h0M3 304h0M17 301h0M23 302h0M37 305h0M44 303h0M54 303h0M67 302h0M77 306h0M86 306h0M98 301h0M108 301h0M117 301h0M124 303h0M137 304h0M143 305h0M157 303h0M162 302h0M174 303h0M188 304h0M197 301h0M203 304h0M214 301h0M222 300h0M234 303h0M244 303h0M254 300h0M266 302h0M275 302h0M284 300h0M294 302h0M303 300h0M315 300h0M327 302h0M335 303h0M342 301h0M357 303h0M365 302h0M377 303h0M387 305h0M397 304h0M406 303h0M415 304h0M425 305h0M437 300h0M447 304h0M456 306h0M462 303h0M-1 314h0M8 312h0M18 313h0M30 313h0M39 314h0M47 310h0M61 314h0M72 310h0M77 313h0M91 309h0M103 312h0M107 312h0M119 309h0M132 314h0M138 311h0M149 313h0M158 311h0M169 312h0M180 312h0M193 314h0M202 314h0M208 310h0M220 313h0M231 311h0M243 311h0M247 309h0M258 313h0M272 309h0M278 310h0M292 314h0M299 309h0M313 315h0M321 312h0M331 313h0M340 310h0M350 313h0M359 313h0M368 315h0M378 310h0M393 314h0M403 314h0M412 314h0M420 309h0M431 314h0M442 309h0M447 313h0M460 314h0M-2 320h0M6 321h0M16 320h0M26 318h0M37 322h0M47 320h0M53 320h0M66 321h0M73 317h0M84 319h0M93 319h0M104 322h0M117 321h0M122 323h0M136 322h0M146 320h0M154 318h0M166 318h0M176 323h0M186 321h0M197 323h0M207 323h0M215 318h0M226 321h0M237 321h0M244 317h0M257 321h0M268 321h0M277 322h0M288 320h0M297 320h0M302 319h0M314 323h0M324 319h0M336 318h0M344 320h0M353 321h0M365 322h0M374 323h0M383 321h0M393 318h0M404 323h0M414 320h0M425 319h0M435 318h0M444 319h0M457 322h0M466 321h0M2 331h0M7 327h0M21 331h0M33 331h0M38 329h0M51 330h0M58 332h0M70 328h0M83 328h0M87 330h0M99 327h0M109 330h0M119 330h0M132 332h0M142 332h0M149 331h0M158 330h0M167 327h0M183 327h0M191 329h0M197 331h0M207 331h0M222 329h0M230 326h0M241 326h0M250 332h0M261 327h0M271 330h0M279 331h0M290 329h0M300 328h0M309 331h0M319 331h0M329 327h0M337 332h0M352 332h0M361 326h0M368 326h0M381 330h0M393 328h0M398 327h0M408 326h0M420 329h0M429 332h0M439 331h0M450 327h0M457 330h0M-3 335h0M6 336h0M16 340h0M26 336h0M33 341h0M47 340h0M55 335h0M64 340h0M72 337h0M82 340h0M94 335h0M104 336h0M115 338h0M126 335h0M135 335h0M145 340h0M154 340h0M163 337h0M177 335h0M185 338h0M196 340h0M206 336h0M213 338h0M224 338h0M233 339h0M244 335h0M253 340h0M267 340h0M274 341h0M283 339h0M298 336h0M302 335h0M313 340h0M326 338h0M333 339h0M343 336h0M356 339h0M367 340h0M373 337h0M383 338h0M392 340h0M406 340h0M415 340h0M427 340h0M437 336h0M444 335h0M457 338h0M468 336h0M0 349h0M13 348h0M22 349h0M29 347h0M37 347h0M53 346h0M58 347h0M67 346h0M77 346h0M92 348h0M102 346h0M110 344h0M122 347h0M129 344h0M140 344h0M148 344h0M160 344h0M172 347h0M182 347h0M188 345h0M202 347h0M211 347h0M217 345h0M230 348h0M243 347h0M249 344h0M260 346h0M273 345h0M278 343h0M287 348h0M302 344h0M307 347h0M318 347h0M332 348h0M339 347h0M349 348h0M359 349h0M371 349h0M379 349h0M390 345h0M401 345h0M408 344h0M421 345h0M428 348h0M438 348h0M449 346h0M463 348h0M-3 358h0M6 358h0M16 356h0M24 354h0M35 354h0M46 357h0M56 353h0M62 354h0M75 357h0M85 355h0M96 355h0M106 355h0M115 353h0M123 355h0M137 358h0M144 356h0M155 355h0M163 357h0M173 353h0M184 353h0M193 353h0M205 353h0M216 356h0M226 355h0M236 354h0M245 356h0M253 356h0M266 358h0M276 355h0M287 354h0M294 355h0M306 356h0M313 358h0M328 355h0M338 356h0M344 353h0M352 356h0M366 356h0M377 355h0M386 356h0M396 355h0M406 355h0M413 356h0M426 355h0M438 355h0M443 355h0M454 353h0M467 353h0M1 362h0M10 367h0M18 366h0M27 367h0M42 363h0M51 363h0M58 363h0M70 366h0M78 364h0M90 364h0M102 364h0M109 366h0M121 362h0M130 366h0M137 365h0M150 362h0M158 362h0M170 363h0M181 362h0M191 364h0M202 366h0M208 367h0M220 363h0M229 365h0M240 365h0M249 366h0M259 366h0M270 363h0M280 364h0M290 364h0M303 365h0M308 367h0M317 361h0M332 362h0M337 362h0M350 366h0M357 362h0M367 361h0M379 364h0M393 365h0M402 364h0M412 365h0M418 363h0M430 361h0M443 364h0M448 364h0M462 362h0M-4 370h0M3 371h0M15 374h0M23 374h0M36 374h0M48 371h0M58 372h0M65 370h0M73 373h0M83 370h0M93 373h0M103 371h0M117 372h0M123 373h0M138 373h0M145 373h0M156 374h0M167 371h0M177 370h0M183 372h0M193 373h0M204 375h0M215 374h0M228 372h0M237 372h0M244 370h0M256 375h0M266 371h0M275 372h0M284 374h0M292 372h0M305 370h0M316 371h0M324 371h0M336 372h0M346 372h0M357 373h0M363 372h0M374 371h0M388 372h0M396 370h0M406 370h0M413 370h0M422 375h0M438 372h0M442 374h0M456 370h0M467 370h0M-2 383h0M12 379h0M20 383h0M31 381h0M38 378h0M48 381h0M61 381h0M71 381h0M81 381h0M92 381h0M102 384h0M112 383h0M121 381h0M128 379h0M141 380h0M151 381h0M161 381h0M168 380h0M181 383h0M189 380h0M200 381h0M211 383h0M222 383h0M231 384h0M240 381h0M251 380h0M262 381h0M270 381h0M279 378h0M289 381h0M303 379h0M312 384h0M322 380h0M327 383h0M337 380h0M353 382h0M362 383h0M368 381h0M378 380h0M390 383h0M399 382h0M408 380h0M417 382h0M431 382h0M440 384h0M451 381h0M462 379h0M-6 390h0M6 392h0M16 387h0M28 390h0M33 391h0M46 392h0M55 388h0M65 389h0M74 390h0M83 388h0M93 387h0M105 391h0M114 392h0M126 391h0M134 392h0M144 392h0M153 392h0M166 388h0M176 388h0M184 389h0M194 389h0M203 389h0M213 391h0M224 391h0M235 393h0M247 391h0M257 392h0M268 389h0M276 387h0M284 389h0M296 387h0M307 387h0M315 390h0M327 390h0M333 391h0M343 390h0M354 392h0M365 388h0M374 392h0M384 388h0M395 391h0M408 387h0M414 391h0M425 391h0M436 387h0M442 388h0M454 388h0M464 387h0M-3 399h0M12 396h0M18 400h0M27 396h0M40 397h0M52 398h0M60 398h0M67 400h0M79 400h0M88 398h0M100 396h0M107 401h0M123 401h0M130 400h0M141 398h0M148 399h0M160 399h0M167 397h0M178 400h0M190 397h0M202 398h0M209 398h0M217 396h0M227 401h0M242 399h0M253 399h0M261 396h0M270 399h0M279 399h0M289 399h0M298 398h0M310 399h0M317 397h0M331 396h0M340 401h0M351 400h0M362 401h0M369 398h0M382 396h0M390 397h0M400 400h0M412 398h0M421 396h0M431 401h0M441 398h0M450 398h0M458 397h0M-3 407h0M2 408h0M17 408h0M23 410h0M33 407h0M45 405h0M54 405h0M63 404h0M76 408h0M84 410h0M95 407h0M108 408h0M115 409h0M126 406h0M132 408h0M146 408h0M153 408h0M163 409h0M176 408h0M182 406h0M196 405h0M202 406h0M217 408h0M223 405h0M237 409h0M246 405h0M257 404h0M263 406h0M278 404h0M283 408h0M297 406h0M302 409h0M318 409h0M325 405h0M336 408h0M347 409h0M355 410h0M365 407h0M376 409h0M386 410h0M394 409h0M407 406h0M412 408h0M426 410h0M435 408h0M447 405h0M456 407h0M463 406h0M-1 417h0M10 415h0M17 417h0M32 418h0M42 413h0M49 415h0M59 418h0M68 413h0M80 413h0M87 416h0M101 416h0M107 416h0M120 415h0M128 414h0M140 415h0M151 417h0M159 416h0M169 417h0M178 416h0M191 417h0M200 418h0M213 417h0M219 414h0M231 413h0M238 413h0M251 415h0M263 418h0M270 415h0M279 413h0M288 418h0M299 413h0M313 415h0M322 415h0M333 413h0M340 417h0M347 418h0M359 417h0M367 413h0M378 417h0M393 418h0M400 413h0M412 416h0M422 416h0M430 414h0M438 413h0M450 414h0M463 413h0M-3 422h0M3 427h0M13 425h0M26 424h0M34 422h0M46 424h0M56 426h0M62 424h0M74 427h0M86 423h0M95 421h0M105 422h0M113 424h0M125 423h0M136 423h0M146 422h0M157 424h0M163 423h0M176 422h0M187 423h0M194 422h0M205 427h0M213 422h0M225 425h0M233 423h0M246 423h0M252 426h0M267 426h0M277 423h0M284 425h0M296 425h0M305 423h0M313 422h0M322 425h0M333 427h0M348 422h0M358 425h0M362 424h0M374 423h0M382 423h0M392 424h0M405 423h0M418 427h0M425 426h0M434 426h0M447 423h0M456 423h0M463 424h0M-2 434h0M9 433h0M22 434h0M32 434h0M41 434h0M51 436h0M61 434h0M70 433h0M83 432h0M88 433h0M99 434h0M111 430h0M118 434h0M129 434h0M140 431h0M151 436h0M158 434h0M171 434h0M180 433h0M193 435h0M200 435h0M211 435h0M223 430h0M228 431h0M242 436h0M248 433h0M262 434h0M271 435h0M283 431h0M293 432h0M301 435h0M309 432h0M322 435h0M333 431h0M341 434h0M353 434h0M359 431h0M368 432h0M380 432h0M388 431h0M401 435h0M408 433h0M423 432h0M430 435h0M437 435h0M452 434h0M459 433h0M-2 439h0M2 443h0M18 440h0M23 441h0M37 442h0M46 439h0M53 442h0M66 439h0M73 441h0M84 441h0M93 439h0M106 444h0M116 444h0M123 442h0M134 444h0M146 442h0M157 444h0M163 441h0M173 442h0M183 443h0M194 439h0M207 439h0M214 442h0M222 443h0M236 439h0M246 439h0M255 439h0M264 441h0M275 443h0M288 441h0M294 440h0M306 441h0M313 440h0M325 444h0M335 444h0M345 442h0M354 441h0M366 439h0M375 440h0M384 441h0M393 442h0M402 440h0M414 440h0M427 443h0M437 439h0M443 441h0M455 444h0M467 444h0M-3 447h0M9 450h0M17 449h0M28 453h0M38 449h0M48 452h0M58 450h0M68 449h0M83 452h0M91 449h0M103 453h0M111 449h0M117 451h0M130 452h0M143 452h0M148 453h0M161 448h0M168 453h0M182 452h0M191 447h0M203 449h0M212 451h0M220 450h0M233 452h0M239 452h0M248 449h0M259 448h0M269 447h0M283 452h0M290 448h0M299 452h0M309 448h0M320 451h0M328 450h0M340 452h0M349 453h0M359 452h0M367 453h0M380 448h0M392 453h0M398 453h0M413 449h0M422 452h0M430 450h0M439 452h0M452 453h0M457 451h0M-4 457h0M2 461h0M17 460h0M24 459h0M37 457h0M46 460h0M55 462h0M66 461h0M73 458h0M84 459h0M97 462h0M107 461h0M118 460h0M126 457h0M134 459h0M143 461h0M154 457h0M162 459h0M174 462h0M186 459h0M193 456h0M206 460h0M215 459h0M224 461h0M232 457h0M247 458h0M254 459h0M264 461h0M273 459h0M286 458h0M296 458h0M306 457h0M314 459h0M326 459h0M332 459h0M347 458h0M353 460h0M363 457h0M372 460h0M387 461h0M396 461h0M407 458h0M414 462h0M428 460h0M436 458h0M443 458h0M453 460h0M466 460h0" vector-effect="non-scaling-stroke"/><clipPath id="c0t"><polygon points="52.00,-0.60 101.50,28.80 52.00,57.00 3.00,29.00"/></clipPath><clipPath id="c0l"><polygon points="3.00,29.00 52.00,57.00 52.00,113.50 3.00,85.00"/></clipPath><clipPath id="c0r"><polygon points="52.00,57.00 101.50,28.80 101.50,85.00 52.00,113.50"/></clipPath><clipPath id="c1t"><polygon points="169.50,0.00 215.50,26.00 169.50,53.50 122.60,27.00"/></clipPath><clipPath id="c1l"><polygon points="122.60,27.00 169.50,53.50 169.50,108.00 122.60,81.40"/></clipPath><clipPath id="c1r"><polygon points="169.50,53.50 215.50,26.00 215.50,81.00 169.50,108.00"/></clipPath><clipPath id="c2t"><polygon points="288.00,0.50 334.50,27.30 288.00,54.00 240.00,28.00"/></clipPath><clipPath id="c2l"><polygon points="240.00,28.00 288.00,54.00 288.00,109.80 240.00,83.60"/></clipPath><clipPath id="c2r"><polygon points="288.00,54.00 334.50,27.30 334.60,82.30 288.00,109.80"/></clipPath><clipPath id="c3t"><polygon points="405.30,1.50 454.00,29.40 405.30,57.10 357.30,30.00"/></clipPath><clipPath id="c3l"><polygon points="357.30,30.00 405.30,57.10 405.30,112.80 357.30,86.00"/></clipPath><clipPath id="c3r"><polygon points="405.30,57.10 454.00,29.40 454.00,86.00 405.30,112.80"/></clipPath><clipPath id="c4t"><polygon points="519.50,2.00 566.40,28.80 519.50,55.00 472.80,29.50"/></clipPath><clipPath id="c4l"><polygon points="472.80,29.50 519.50,55.00 519.50,109.80 472.80,83.70"/></clipPath><clipPath id="c4r"><polygon points="519.50,55.00 566.40,28.80 566.40,82.90 519.50,109.80"/></clipPath><clipPath id="c5t"><polygon points="634.20,2.00 681.70,28.80 634.20,56.00 587.60,29.50"/></clipPath><clipPath id="c5l"><polygon points="587.60,29.50 634.20,56.00 634.20,110.80 587.60,84.60"/></clipPath><clipPath id="c5r"><polygon points="634.20,56.00 681.70,28.80 681.70,83.60 634.20,110.80"/></clipPath></defs>
<rect width="100%" height="100%" fill="#fff"/>
<rect x="1" y="0" width="103.00" height="114.00" fill="url(#pg)"/>
<g clip-path="url(#c0t)"><polygon points="52.00,-0.60 101.50,28.80 52.00,57.00 3.00,29.00" fill="#bdbdbd"/><path d="M52.0 57.0L41.2 50.8L43.5 49.7L46.2 48.8L49.0 48.3L52.0 48.0L55.0 48.2L57.8 48.6L60.5 49.4L62.8 50.5Z" fill="#7f97b7"/><path d="M3.0 29.0L13.8 22.5L15.7 23.8L17.1 25.3L18.0 27.0L18.2 28.8L18.0 30.5L17.1 32.2L15.7 33.8L13.8 35.2Z" fill="#91af87"/><path d="M101.5 28.8L90.7 22.6L88.8 24.0L87.4 25.6L86.5 27.3L86.3 29.0L86.5 30.8L87.4 32.5L88.8 34.0L90.7 35.3Z" fill="#ca9d73"/><use href="#ml" transform="matrix(0.32667 -0.19733 0.32667 0.18667 -163.60 49.00)" fill="none" stroke="#161616" stroke-width="0.3"/><use href="#md" transform="matrix(0.32667 -0.19733 0.32667 0.18667 -163.60 49.00)" fill="none" stroke="#161616" stroke-width="0.5" stroke-linecap="round"/></g>
<g clip-path="url(#c0l)"><polygon points="3.00,29.00 52.00,57.00 52.00,113.50 3.00,85.00" fill="#474747"/><path d="M52.0 57.0L41.2 50.8L41.4 53.4L42.0 56.0L43.0 58.7L44.4 61.4L46.0 63.8L47.9 66.0L49.9 67.9L52.0 69.3Z" fill="#303844"/><path d="M3.0 29.0L13.8 35.2L13.6 37.4L13.0 39.4L12.0 41.0L10.6 42.1L9.0 42.7L7.1 42.7L5.1 42.3L3.0 41.3Z" fill="#364133"/><path d="M52.0 113.5L52.0 102.3L50.1 101.4L48.2 101.0L46.6 101.1L45.1 101.6L43.9 102.6L42.9 104.0L42.4 105.8L42.2 107.9Z" fill="#38453e"/><path d="M3.0 85.0L3.0 74.9L4.7 76.1L6.4 77.6L7.9 79.4L9.2 81.4L10.3 83.6L11.1 85.8L11.7 88.0L11.8 90.0Z" fill="#383824"/><use href="#ml" transform="matrix(0.32667 0.18667 0.00000 0.37333 -0.27 15.93)" fill="none" stroke="#161616" stroke-width="0.3"/><use href="#md" transform="matrix(0.32667 0.18667 0.00000 0.37333 -0.27 15.93)" fill="none" stroke="#161616" stroke-width="0.5" stroke-linecap="round"/></g>
<g clip-path="url(#c0r)"><polygon points="52.00,57.00 101.50,28.80 101.50,85.00 52.00,113.50" fill="#9f9f9f"/><path d="M52.0 57.0L62.8 50.5L62.6 53.0L62.0 55.7L61.0 58.4L59.6 61.1L58.0 63.6L56.1 65.9L54.1 67.8L52.0 69.3Z" fill="#6b7f9a"/><path d="M101.5 28.8L90.7 35.3L90.9 37.6L91.5 39.5L92.5 41.1L93.9 42.1L95.5 42.7L97.4 42.7L99.4 42.2L101.5 41.1Z" fill="#ab8461"/><path d="M101.5 85.0L101.5 71.0L99.1 72.7L96.8 74.9L94.7 77.5L92.8 80.3L91.3 83.4L90.2 86.5L89.5 89.5L89.2 92.4Z" fill="#9c9254"/><path d="M52.0 113.5L52.0 102.3L53.9 101.4L55.8 100.9L57.4 100.9L58.9 101.4L60.1 102.4L61.1 103.7L61.6 105.5L61.8 107.6Z" fill="#7e9c8d"/><use href="#ml" transform="matrix(0.33000 -0.18800 0.00000 0.37667 28.90 6.13)" fill="none" stroke="#161616" stroke-width="0.3"/><use href="#md" transform="matrix(0.33000 -0.18800 0.00000 0.37667 28.90 6.13)" fill="none" stroke="#161616" stroke-width="0.5" stroke-linecap="round"/></g>
<rect x="121" y="0" width="95.50" height="108.00" fill="url(#pg)"/>
<g clip-path="url(#c1t)"><polygon points="169.50,0.00 215.50,26.00 169.50,53.50 122.60,27.00" fill="#cccccc"/><path d="M169.5 53.5L159.2 47.7L161.4 46.6L163.9 45.8L166.7 45.4L169.5 45.2L172.3 45.3L175.1 45.8L177.6 46.5L179.8 47.6Z" fill="#89a3c6"/><path d="M122.6 27.0L132.9 21.1L134.7 22.3L136.1 23.7L136.9 25.3L137.2 26.9L136.9 28.5L136.1 30.1L134.7 31.6L132.9 32.8Z" fill="#9dbd92"/><path d="M215.5 26.0L205.2 20.2L203.4 21.4L202.0 22.9L201.2 24.5L200.9 26.1L201.2 27.7L202.0 29.3L203.4 30.7L205.2 31.9Z" fill="#dbaa7d"/><use href="#ml" transform="matrix(0.24684 -0.14211 0.24684 0.13947 97.92 24.32)" fill="none" stroke="#161616" stroke-width="0.32"/><use href="#md" transform="matrix(0.24684 -0.14211 0.24684 0.13947 97.92 24.32)" fill="none" stroke="#161616" stroke-width="0.4" stroke-linecap="round"/></g>
<g clip-path="url(#c1l)"><polygon points="122.60,27.00 169.50,53.50 169.50,108.00 122.60,81.40" fill="#474747"/><path d="M169.5 53.5L159.2 47.7L159.4 50.1L160.0 52.7L160.9 55.3L162.2 57.8L163.8 60.2L165.6 62.3L167.5 64.1L169.5 65.5Z" fill="#303945"/><path d="M122.6 27.0L132.9 32.8L132.7 35.1L132.1 37.0L131.2 38.5L129.9 39.6L128.3 40.2L126.5 40.3L124.6 39.9L122.6 39.0Z" fill="#364233"/><path d="M169.5 108.0L169.5 97.1L167.7 96.3L165.9 95.9L164.3 96.0L162.9 96.6L161.7 97.5L160.8 98.9L160.3 100.7L160.1 102.7Z" fill="#38453f"/><path d="M122.6 81.4L122.6 71.6L124.2 72.7L125.8 74.2L127.3 75.9L128.6 77.8L129.6 79.9L130.4 82.1L130.9 84.2L131.0 86.2Z" fill="#383824"/><use href="#ml" transform="matrix(0.24684 0.13947 0.00000 0.28632 92.98 -6.92)" fill="none" stroke="#161616" stroke-width="0.32"/><use href="#md" transform="matrix(0.24684 0.13947 0.00000 0.28632 92.98 -6.92)" fill="none" stroke="#161616" stroke-width="0.4" stroke-linecap="round"/></g>
<g clip-path="url(#c1r)"><polygon points="169.50,53.50 215.50,26.00 215.50,81.00 169.50,108.00" fill="#a2a2a2"/><path d="M169.5 53.5L179.8 47.6L179.6 50.0L179.0 52.6L178.1 55.2L176.8 57.8L175.2 60.2L173.4 62.3L171.5 64.1L169.5 65.5Z" fill="#6d829d"/><path d="M215.5 26.0L205.2 31.9L205.4 34.2L206.0 36.1L206.9 37.6L208.2 38.7L209.8 39.3L211.6 39.3L213.5 38.9L215.5 38.0Z" fill="#ae8763"/><path d="M215.5 81.0L215.5 67.4L213.2 69.0L211.0 71.0L209.0 73.4L207.2 76.2L205.8 79.1L204.7 82.0L204.0 85.0L203.8 87.8Z" fill="#9f9555"/><path d="M169.5 108.0L169.5 97.1L171.3 96.3L173.1 95.9L174.7 96.0L176.1 96.5L177.3 97.5L178.2 98.8L178.7 100.6L178.9 102.6Z" fill="#809f90"/><use href="#ml" transform="matrix(0.24211 -0.14474 0.00000 0.28684 108.97 46.66)" fill="none" stroke="#161616" stroke-width="0.32"/><use href="#md" transform="matrix(0.24211 -0.14474 0.00000 0.28684 108.97 46.66)" fill="none" stroke="#161616" stroke-width="0.4" stroke-linecap="round"/></g>
<rect x="237.5" y="0" width="98.50" height="110.00" fill="url(#pg)"/>
<g clip-path="url(#c2t)"><polygon points="288.00,0.50 334.50,27.30 288.00,54.00 240.00,28.00" fill="#b7b7b7"/><path d="M288.0 54.0L277.4 48.3L279.7 47.2L282.3 46.4L285.1 45.9L288.0 45.7L290.9 45.8L293.7 46.2L296.3 47.0L298.6 48.0Z" fill="#829aba"/><path d="M240.0 28.0L250.6 21.9L252.4 23.2L253.8 24.6L254.6 26.1L254.9 27.8L254.6 29.4L253.8 31.0L252.4 32.4L250.6 33.7Z" fill="#94b28a"/><path d="M334.5 27.3L323.9 21.6L322.1 22.9L320.7 24.3L319.9 25.9L319.6 27.5L319.9 29.2L320.7 30.7L322.1 32.1L323.9 33.4Z" fill="#cfa076"/><use href="#ml" transform="matrix(0.20000 -0.11458 0.20000 0.10833 186.00 45.56)" fill="none" stroke="#161616" stroke-width="0.21"/><use href="#md" transform="matrix(0.20000 -0.11458 0.20000 0.10833 186.00 45.56)" fill="none" stroke="#161616" stroke-width="0.5" stroke-linecap="round"/></g>
<g clip-path="url(#c2l)"><polygon points="240.00,28.00 288.00,54.00 288.00,109.80 240.00,83.60" fill="#404040"/><path d="M288.0 54.0L277.4 48.3L277.6 50.8L278.2 53.4L279.2 56.0L280.5 58.6L282.1 61.0L284.0 63.1L285.9 64.9L288.0 66.2Z" fill="#2d3641"/><path d="M240.0 28.0L250.6 33.7L250.4 36.0L249.8 38.0L248.8 39.6L247.5 40.7L245.9 41.3L244.0 41.5L242.1 41.1L240.0 40.2Z" fill="#343e30"/><path d="M288.0 109.8L288.0 98.7L286.1 97.9L284.3 97.5L282.7 97.7L281.2 98.3L280.0 99.3L279.1 100.7L278.6 102.5L278.4 104.6Z" fill="#35423b"/><path d="M240.0 83.6L240.0 73.6L241.7 74.7L243.3 76.1L244.8 77.9L246.1 79.8L247.2 81.9L248.0 84.1L248.5 86.2L248.6 88.3Z" fill="#353522"/><use href="#ml" transform="matrix(0.20000 0.10833 0.00000 0.23167 216.00 3.42)" fill="none" stroke="#161616" stroke-width="0.21"/><use href="#md" transform="matrix(0.20000 0.10833 0.00000 0.23167 216.00 3.42)" fill="none" stroke="#161616" stroke-width="0.5" stroke-linecap="round"/></g>
<g clip-path="url(#c2r)"><polygon points="288.00,54.00 334.50,27.30 334.60,82.30 288.00,109.80" fill="#919191"/><path d="M288.0 54.0L298.6 48.0L298.4 50.5L297.8 53.1L296.8 55.8L295.5 58.4L293.9 60.8L292.0 63.0L290.1 64.8L288.0 66.2Z" fill="#667a93"/><path d="M334.5 27.3L323.9 33.4L324.1 35.6L324.7 37.6L325.7 39.1L327.0 40.2L328.6 40.8L330.5 40.9L332.4 40.5L334.5 39.5Z" fill="#a37e5d"/><path d="M334.6 82.3L334.6 68.4L332.3 70.0L330.0 72.1L327.9 74.6L326.1 77.3L324.6 80.3L323.5 83.3L322.8 86.3L322.6 89.2Z" fill="#958b50"/><path d="M288.0 109.8L288.0 98.7L289.9 97.8L291.7 97.4L293.3 97.5L294.8 98.0L296.0 99.0L296.9 100.5L297.4 102.2L297.6 104.3Z" fill="#789586"/><use href="#ml" transform="matrix(0.19375 -0.11125 0.00000 0.23250 268.62 46.53)" fill="none" stroke="#161616" stroke-width="0.21"/><use href="#md" transform="matrix(0.19375 -0.11125 0.00000 0.23250 268.62 46.53)" fill="none" stroke="#161616" stroke-width="0.5" stroke-linecap="round"/></g>
<rect x="354.7" y="0" width="100.60" height="113.80" fill="url(#pg)"/>
<g clip-path="url(#c3t)"><polygon points="405.30,1.50 454.00,29.40 405.30,57.10 357.30,30.00" fill="#adadad"/><path d="M405.3 57.1L394.7 51.1L397.0 50.0L399.6 49.2L402.4 48.7L405.3 48.5L408.2 48.6L411.0 49.0L413.6 49.8L415.9 50.8Z" fill="#869fc0"/><path d="M357.3 30.0L367.9 23.7L369.7 25.0L371.1 26.5L371.9 28.1L372.2 29.8L371.9 31.5L371.1 33.1L369.7 34.6L367.9 36.0Z" fill="#98b88e"/><path d="M454.0 29.4L443.4 23.4L441.6 24.8L440.2 26.3L439.4 27.9L439.1 29.6L439.4 31.3L440.2 32.9L441.6 34.4L443.4 35.7Z" fill="#d5a579"/><use href="#ml" transform="matrix(0.17143 -0.10179 0.17143 0.09679 335.01 41.25)" fill="none" stroke="#161616" stroke-width="0.22"/><use href="#md" transform="matrix(0.17143 -0.10179 0.17143 0.09679 335.01 41.25)" fill="none" stroke="#161616" stroke-width="0.5" stroke-linecap="round"/></g>
<g clip-path="url(#c3l)"><polygon points="357.30,30.00 405.30,57.10 405.30,112.80 357.30,86.00" fill="#3e3e3e"/><path d="M405.3 57.1L394.7 51.1L394.9 53.7L395.5 56.3L396.5 59.0L397.8 61.6L399.4 64.0L401.3 66.2L403.2 68.0L405.3 69.4Z" fill="#303945"/><path d="M357.3 30.0L367.9 36.0L367.7 38.3L367.1 40.2L366.1 41.8L364.8 42.9L363.2 43.6L361.3 43.7L359.4 43.2L357.3 42.3Z" fill="#374233"/><path d="M405.3 112.8L405.3 101.6L403.4 100.8L401.6 100.4L400.0 100.5L398.5 101.0L397.3 102.1L396.4 103.5L395.9 105.3L395.7 107.4Z" fill="#38453f"/><path d="M357.3 86.0L357.3 75.9L359.0 77.1L360.6 78.6L362.1 80.3L363.4 82.3L364.5 84.5L365.3 86.6L365.8 88.8L365.9 90.9Z" fill="#383824"/><use href="#ml" transform="matrix(0.17143 0.09679 0.00000 0.20000 355.59 5.03)" fill="none" stroke="#161616" stroke-width="0.22"/><use href="#md" transform="matrix(0.17143 0.09679 0.00000 0.20000 355.59 5.03)" fill="none" stroke="#161616" stroke-width="0.5" stroke-linecap="round"/></g>
<g clip-path="url(#c3r)"><polygon points="405.30,57.10 454.00,29.40 454.00,86.00 405.30,112.80" fill="#8b8b8b"/><path d="M405.3 57.1L415.9 50.8L415.7 53.4L415.1 56.0L414.1 58.7L412.8 61.4L411.2 63.9L409.3 66.1L407.4 68.0L405.3 69.4Z" fill="#6c809b"/><path d="M454.0 29.4L443.4 35.7L443.6 38.0L444.2 39.9L445.2 41.5L446.5 42.5L448.1 43.1L450.0 43.2L451.9 42.7L454.0 41.7Z" fill="#ac8562"/><path d="M454.0 86.0L454.0 72.0L451.7 73.7L449.4 75.8L447.3 78.3L445.5 81.1L444.0 84.1L442.9 87.2L442.2 90.3L442.0 93.1Z" fill="#9d9354"/><path d="M405.3 112.8L405.3 101.6L407.2 100.7L409.0 100.3L410.6 100.3L412.1 100.8L413.3 101.8L414.2 103.2L414.7 105.0L414.9 107.1Z" fill="#7f9d8e"/><use href="#ml" transform="matrix(0.17393 -0.09893 0.00000 0.19893 401.82 25.26)" fill="none" stroke="#161616" stroke-width="0.22"/><use href="#md" transform="matrix(0.17393 -0.09893 0.00000 0.19893 401.82 25.26)" fill="none" stroke="#161616" stroke-width="0.5" stroke-linecap="round"/></g>
<rect x="470.8" y="0" width="96.90" height="109.70" fill="url(#pg)"/>
<g clip-path="url(#c4t)"><polygon points="519.50,2.00 566.40,28.80 519.50,55.00 472.80,29.50" fill="#b4b4b4"/><path d="M519.5 55.0L509.2 49.4L511.4 48.3L513.9 47.5L516.7 47.0L519.5 46.8L522.3 46.9L525.1 47.3L527.6 48.0L529.8 49.0Z" fill="#8ca6c9"/><path d="M472.8 29.5L483.1 23.4L484.9 24.7L486.2 26.1L487.1 27.6L487.3 29.2L487.1 30.8L486.2 32.4L484.9 33.8L483.1 35.1Z" fill="#9fc094"/><path d="M566.4 28.8L556.1 23.2L554.3 24.5L553.0 25.9L552.1 27.5L551.9 29.1L552.1 30.7L553.0 32.2L554.3 33.6L556.1 34.9Z" fill="#deac7f"/><use href="#ml" transform="matrix(0.15065 -0.08871 0.15065 0.08226 454.72 31.60)" fill="none" stroke="#161616" stroke-width="0.21"/><use href="#md" transform="matrix(0.15065 -0.08871 0.15065 0.08226 454.72 31.60)" fill="none" stroke="#161616" stroke-width="0.46" stroke-linecap="round"/></g>
<g clip-path="url(#c4l)"><polygon points="472.80,29.50 519.50,55.00 519.50,109.80 472.80,83.70" fill="#404040"/><path d="M519.5 55.0L509.2 49.4L509.4 51.8L510.0 54.4L511.0 57.0L512.2 59.5L513.8 61.8L515.6 63.9L517.5 65.6L519.5 66.9Z" fill="#313a47"/><path d="M472.8 29.5L483.1 35.1L482.9 37.3L482.3 39.2L481.3 40.8L480.1 41.9L478.5 42.5L476.7 42.7L474.8 42.3L472.8 41.4Z" fill="#384434"/><path d="M519.5 109.8L519.5 99.0L517.7 98.2L515.9 97.8L514.3 98.0L512.9 98.5L511.7 99.5L510.9 100.9L510.3 102.7L510.2 104.7Z" fill="#3a4841"/><path d="M472.8 83.7L472.8 73.9L474.4 75.0L476.0 76.4L477.5 78.1L478.7 80.0L479.8 82.1L480.6 84.2L481.0 86.3L481.2 88.3Z" fill="#3a3a25"/><use href="#ml" transform="matrix(0.15065 0.08226 0.00000 0.17484 459.24 1.12)" fill="none" stroke="#161616" stroke-width="0.21"/><use href="#md" transform="matrix(0.15065 0.08226 0.00000 0.17484 459.24 1.12)" fill="none" stroke="#161616" stroke-width="0.46" stroke-linecap="round"/></g>
<g clip-path="url(#c4r)"><polygon points="519.50,55.00 566.40,28.80 566.40,82.90 519.50,109.80" fill="#979797"/><path d="M519.5 55.0L529.8 49.0L529.6 51.4L529.0 54.0L528.0 56.6L526.8 59.2L525.2 61.6L523.4 63.7L521.5 65.5L519.5 66.9Z" fill="#758ba8"/><path d="M566.4 28.8L556.1 34.9L556.3 37.1L556.9 39.0L557.9 40.5L559.1 41.5L560.7 42.1L562.5 42.1L564.4 41.7L566.4 40.7Z" fill="#ba906a"/><path d="M566.4 82.9L566.4 69.4L564.1 71.0L561.9 73.0L559.9 75.5L558.1 78.2L556.7 81.1L555.6 84.1L554.9 87.0L554.7 89.8Z" fill="#aa9f5b"/><path d="M519.5 109.8L519.5 99.0L521.3 98.1L523.1 97.7L524.7 97.7L526.1 98.2L527.3 99.2L528.1 100.6L528.7 102.3L528.8 104.3Z" fill="#89aa99"/><use href="#ml" transform="matrix(0.15129 -0.08452 0.00000 0.17677 504.37 38.70)" fill="none" stroke="#161616" stroke-width="0.21"/><use href="#md" transform="matrix(0.15129 -0.08452 0.00000 0.17677 504.37 38.70)" fill="none" stroke="#161616" stroke-width="0.46" stroke-linecap="round"/></g>
<rect x="584.2" y="0" width="100.80" height="110.80" fill="url(#pg)"/>
<g clip-path="url(#c5t)"><polygon points="634.20,2.00 681.70,28.80 634.20,56.00 587.60,29.50" fill="#aeaeae"/><path d="M634.2 56.0L623.9 50.2L626.1 49.1L628.7 48.3L631.4 47.8L634.2 47.6L637.0 47.7L639.7 48.2L642.3 48.9L644.5 50.0Z" fill="#839cbd"/><path d="M587.6 29.5L597.9 23.4L599.7 24.7L601.0 26.1L601.8 27.7L602.1 29.3L601.8 31.0L601.0 32.6L599.7 34.0L597.9 35.3Z" fill="#96b58c"/><path d="M681.7 28.8L671.4 23.0L669.6 24.3L668.3 25.7L667.5 27.3L667.2 29.0L667.5 30.6L668.3 32.2L669.6 33.6L671.4 34.9Z" fill="#d1a277"/><use href="#ml" transform="matrix(0.12263 -0.07237 0.12263 0.06974 579.02 33.14)" fill="none" stroke="#161616" stroke-width="0.23"/><use href="#md" transform="matrix(0.12263 -0.07237 0.12263 0.06974 579.02 33.14)" fill="none" stroke="#161616" stroke-width="0.42" stroke-linecap="round"/></g>
<g clip-path="url(#c5l)"><polygon points="587.60,29.50 634.20,56.00 634.20,110.80 587.60,84.60" fill="#3e3e3e"/><path d="M634.2 56.0L623.9 50.2L624.1 52.6L624.7 55.3L625.7 57.9L627.0 60.4L628.5 62.8L630.3 65.0L632.2 66.8L634.2 68.1Z" fill="#2f3844"/><path d="M587.6 29.5L597.9 35.3L597.7 37.6L597.1 39.5L596.1 41.1L594.8 42.2L593.3 42.8L591.5 42.9L589.6 42.5L587.6 41.6Z" fill="#364132"/><path d="M634.2 110.8L634.2 99.8L632.4 99.0L630.6 98.6L629.0 98.7L627.6 99.3L626.5 100.3L625.6 101.7L625.1 103.5L624.9 105.5Z" fill="#37443e"/><path d="M587.6 84.6L587.6 74.7L589.2 75.8L590.8 77.3L592.3 79.0L593.5 81.0L594.6 83.1L595.3 85.2L595.8 87.3L596.0 89.4Z" fill="#373723"/><use href="#ml" transform="matrix(0.12263 0.06974 0.00000 0.14500 582.69 19.46)" fill="none" stroke="#161616" stroke-width="0.23"/><use href="#md" transform="matrix(0.12263 0.06974 0.00000 0.14500 582.69 19.46)" fill="none" stroke="#161616" stroke-width="0.42" stroke-linecap="round"/></g>
<g clip-path="url(#c5r)"><polygon points="634.20,56.00 681.70,28.80 681.70,83.60 634.20,110.80" fill="#8c8c8c"/><path d="M634.2 56.0L644.5 50.0L644.3 52.4L643.7 55.0L642.7 57.7L641.4 60.3L639.9 62.7L638.1 64.9L636.2 66.7L634.2 68.1Z" fill="#6a7e98"/><path d="M681.7 28.8L671.4 34.9L671.6 37.1L672.2 39.0L673.2 40.6L674.5 41.6L676.0 42.2L677.8 42.3L679.7 41.9L681.7 40.9Z" fill="#a98360"/><path d="M681.7 83.6L681.7 69.8L679.4 71.4L677.2 73.5L675.2 76.0L673.5 78.7L672.0 81.7L670.9 84.7L670.3 87.7L670.1 90.5Z" fill="#9a9053"/><path d="M634.2 110.8L634.2 99.8L636.0 98.9L637.8 98.5L639.4 98.6L640.8 99.1L641.9 100.1L642.8 101.5L643.3 103.3L643.5 105.3Z" fill="#7c9a8b"/><use href="#ml" transform="matrix(0.12500 -0.07158 0.00000 0.14421 627.95 55.25)" fill="none" stroke="#161616" stroke-width="0.23"/><use href="#md" transform="matrix(0.12500 -0.07158 0.00000 0.14421 627.95 55.25)" fill="none" stroke="#161616" stroke-width="0.42" stroke-linecap="round"/></g>
<text x="64.8" y="177.1" text-anchor="middle" font-family="'Liberation Sans','IPAGothic',sans-serif" font-size="17" stroke="#000" stroke-width="0.4">（<tspan font-size="15.6" stroke-width="0.3" dx="-0.6">a</tspan><tspan dx="0.6">）</tspan></text>
<text x="182" y="177.1" text-anchor="middle" font-family="'Liberation Sans','IPAGothic',sans-serif" font-size="17" stroke="#000" stroke-width="0.4">（<tspan font-size="15.6" stroke-width="0.3" dx="-0.6">b</tspan><tspan dx="0.6">）</tspan></text>
<text x="299.7" y="177.1" text-anchor="middle" font-family="'Liberation Sans','IPAGothic',sans-serif" font-size="17" stroke="#000" stroke-width="0.4">（<tspan font-size="15.6" stroke-width="0.3" dx="-0.6">c</tspan><tspan dx="0.6">）</tspan></text>
<text x="417.7" y="177.1" text-anchor="middle" font-family="'Liberation Sans','IPAGothic',sans-serif" font-size="17" stroke="#000" stroke-width="0.4">（<tspan font-size="15.6" stroke-width="0.3" dx="-0.6">d</tspan><tspan dx="0.6">）</tspan></text>
<text x="531.7" y="177.1" text-anchor="middle" font-family="'Liberation Sans','IPAGothic',sans-serif" font-size="17" stroke="#000" stroke-width="0.4">（<tspan font-size="15.6" stroke-width="0.3" dx="-0.6">e</tspan><tspan dx="0.6">）</tspan></text>
<text x="646.7" y="177.1" text-anchor="middle" font-family="'Liberation Sans','IPAGothic',sans-serif" font-size="17" stroke="#000" stroke-width="0.4">（<tspan font-size="15.6" stroke-width="0.3" dx="-0.6">f</tspan><tspan dx="0.6">）</tspan></text>
<path d="M54.5 226.1V370.5H337" fill="none" stroke="#404040" stroke-width="1.2"/>
<text transform="translate(43.50 374.20)" x="-22.40" y="0" font-family="'Liberation Sans',sans-serif" font-weight="bold" font-size="10.4" textLength="22.40" lengthAdjust="spacingAndGlyphs">0.16</text>
<text transform="translate(43.50 353.57)" x="-22.40" y="0" font-family="'Liberation Sans',sans-serif" font-weight="bold" font-size="10.4" textLength="22.40" lengthAdjust="spacingAndGlyphs">0.17</text>
<text transform="translate(43.50 332.94)" x="-22.40" y="0" font-family="'Liberation Sans',sans-serif" font-weight="bold" font-size="10.4" textLength="22.40" lengthAdjust="spacingAndGlyphs">0.18</text>
<text transform="translate(43.50 312.31)" x="-22.40" y="0" font-family="'Liberation Sans',sans-serif" font-weight="bold" font-size="10.4" textLength="22.40" lengthAdjust="spacingAndGlyphs">0.19</text>
<text transform="translate(43.50 291.69)" x="-16.30" y="0" font-family="'Liberation Sans',sans-serif" font-weight="bold" font-size="10.4" textLength="16.30" lengthAdjust="spacingAndGlyphs">0.2</text>
<text transform="translate(43.50 271.06)" x="-22.40" y="0" font-family="'Liberation Sans',sans-serif" font-weight="bold" font-size="10.4" textLength="22.40" lengthAdjust="spacingAndGlyphs">0.21</text>
<text transform="translate(43.50 250.43)" x="-22.40" y="0" font-family="'Liberation Sans',sans-serif" font-weight="bold" font-size="10.4" textLength="22.40" lengthAdjust="spacingAndGlyphs">0.22</text>
<text transform="translate(43.50 229.80)" x="-22.40" y="0" font-family="'Liberation Sans',sans-serif" font-weight="bold" font-size="10.4" textLength="22.40" lengthAdjust="spacingAndGlyphs">0.23</text>
<polyline fill="none" stroke="#000" stroke-width="1.75" stroke-linejoin="round" points="82.50,359.66 139.25,337.79 196.00,317.58 252.75,245.38 309.50,245.38"/>
<text transform="translate(87.00 385.90) scale(1.07 1) rotate(-45)" x="-31.30" y="0" font-family="'Liberation Sans',sans-serif" font-weight="bold" font-size="10.4" textLength="31.30" lengthAdjust="spacingAndGlyphs">25390</text>
<text transform="translate(143.75 385.90) scale(1.07 1) rotate(-45)" x="-31.30" y="0" font-family="'Liberation Sans',sans-serif" font-weight="bold" font-size="10.4" textLength="31.30" lengthAdjust="spacingAndGlyphs">56972</text>
<text transform="translate(200.50 385.90) scale(1.07 1) rotate(-45)" x="-31.30" y="0" font-family="'Liberation Sans',sans-serif" font-weight="bold" font-size="10.4" textLength="31.30" lengthAdjust="spacingAndGlyphs">68696</text>
<text transform="translate(257.25 385.90) scale(1.07 1) rotate(-45)" x="-31.30" y="0" font-family="'Liberation Sans',sans-serif" font-weight="bold" font-size="10.4" textLength="31.30" lengthAdjust="spacingAndGlyphs">94250</text>
<text transform="translate(314.00 385.90) scale(1.07 1) rotate(-45)" x="-37.40" y="0" font-family="'Liberation Sans',sans-serif" font-weight="bold" font-size="10.4" textLength="37.40" lengthAdjust="spacingAndGlyphs">133860</text>
<text transform="translate(196.30 420.60)" x="-42.00" y="0" font-family="'Liberation Sans',sans-serif" font-weight="bold" font-size="10.4" textLength="84.00" lengthAdjust="spacingAndGlyphs">No. of elements</text>
<text transform="translate(11.60 307.10) rotate(-90)" x="-59.50" y="0" font-family="'Liberation Sans',sans-serif" font-weight="bold" font-size="10.4" textLength="119.00" lengthAdjust="spacingAndGlyphs">Total heat flux (W/mm²)</text>
<text x="180.6" y="484.3" text-anchor="middle" font-family="'Liberation Serif','Noto Serif CJK SC',serif" font-weight="bold" font-size="17.4">（<tspan dy="-1.6">g</tspan><tspan dy="1.6">）</tspan></text>
<path d="M404.7 225.2V369.6H678.4" fill="none" stroke="#404040" stroke-width="1.2"/>
<text transform="translate(393.40 373.00)" x="-18.50" y="0" font-family="'Liberation Sans',sans-serif" font-weight="bold" font-size="10.4" textLength="18.50" lengthAdjust="spacingAndGlyphs">685</text>
<text transform="translate(393.40 352.37)" x="-18.50" y="0" font-family="'Liberation Sans',sans-serif" font-weight="bold" font-size="10.4" textLength="18.50" lengthAdjust="spacingAndGlyphs">735</text>
<text transform="translate(393.40 331.74)" x="-18.50" y="0" font-family="'Liberation Sans',sans-serif" font-weight="bold" font-size="10.4" textLength="18.50" lengthAdjust="spacingAndGlyphs">785</text>
<text transform="translate(393.40 311.11)" x="-18.50" y="0" font-family="'Liberation Sans',sans-serif" font-weight="bold" font-size="10.4" textLength="18.50" lengthAdjust="spacingAndGlyphs">835</text>
<text transform="translate(393.40 290.49)" x="-18.50" y="0" font-family="'Liberation Sans',sans-serif" font-weight="bold" font-size="10.4" textLength="18.50" lengthAdjust="spacingAndGlyphs">885</text>
<text transform="translate(393.40 269.86)" x="-18.50" y="0" font-family="'Liberation Sans',sans-serif" font-weight="bold" font-size="10.4" textLength="18.50" lengthAdjust="spacingAndGlyphs">935</text>
<text transform="translate(393.40 249.23)" x="-18.50" y="0" font-family="'Liberation Sans',sans-serif" font-weight="bold" font-size="10.4" textLength="18.50" lengthAdjust="spacingAndGlyphs">985</text>
<text transform="translate(393.40 228.60)" x="-24.60" y="0" font-family="'Liberation Sans',sans-serif" font-weight="bold" font-size="10.4" textLength="24.60" lengthAdjust="spacingAndGlyphs">1035</text>
<polyline fill="none" stroke="#000" stroke-width="1.75" stroke-linejoin="round" points="431.80,326.70 486.70,294.80 541.60,244.90 596.50,235.00 651.40,234.40"/>
<polyline fill="none" stroke="#f00" stroke-width="1.75" stroke-linejoin="round" points="431.80,328.30 486.70,303.20 541.60,249.50 596.50,235.30 651.40,234.90"/>
<text transform="translate(436.10 385.00) scale(1.07 1) rotate(-45)" x="-31.30" y="0" font-family="'Liberation Sans',sans-serif" font-weight="bold" font-size="10.4" textLength="31.30" lengthAdjust="spacingAndGlyphs">25390</text>
<text transform="translate(491.00 385.00) scale(1.07 1) rotate(-45)" x="-31.30" y="0" font-family="'Liberation Sans',sans-serif" font-weight="bold" font-size="10.4" textLength="31.30" lengthAdjust="spacingAndGlyphs">56972</text>
<text transform="translate(545.90 385.00) scale(1.07 1) rotate(-45)" x="-31.30" y="0" font-family="'Liberation Sans',sans-serif" font-weight="bold" font-size="10.4" textLength="31.30" lengthAdjust="spacingAndGlyphs">68696</text>
<text transform="translate(600.80 385.00) scale(1.07 1) rotate(-45)" x="-31.30" y="0" font-family="'Liberation Sans',sans-serif" font-weight="bold" font-size="10.4" textLength="31.30" lengthAdjust="spacingAndGlyphs">94250</text>
<text transform="translate(655.70 385.00) scale(1.07 1) rotate(-45)" x="-37.40" y="0" font-family="'Liberation Sans',sans-serif" font-weight="bold" font-size="10.4" textLength="37.40" lengthAdjust="spacingAndGlyphs">133860</text>
<text transform="translate(542.30 422.70)" x="-40.00" y="0" font-family="'Liberation Sans',sans-serif" font-weight="bold" font-size="10.4" textLength="80.00" lengthAdjust="spacingAndGlyphs">No. of elements</text>
<text transform="translate(365.60 297.10) rotate(-90)" x="-40.50" y="0" font-family="'Liberation Sans',sans-serif" font-weight="bold" font-size="10.4" textLength="81.00" lengthAdjust="spacingAndGlyphs">Temperature (K)</text>
<path d="M523 304.4H541.8" stroke="#000" stroke-width="1.75"/>
<text transform="translate(543.60 307.90)" x="0.00" y="0" font-family="'Liberation Sans',sans-serif" font-weight="bold" font-size="10.4" textLength="135.00" lengthAdjust="spacingAndGlyphs">Maximum temperature (K)</text>
<path d="M523 339.1H541.8" stroke="#f00" stroke-width="1.75"/>
<text transform="translate(543.60 342.70)" x="0.00" y="0" font-family="'Liberation Sans',sans-serif" font-weight="bold" font-size="10.4" textLength="135.00" lengthAdjust="spacingAndGlyphs">Minimum Temperature (K)</text>
<text x="530.4" y="483.1" text-anchor="middle" font-family="'Liberation Sans','IPAGothic',sans-serif" font-weight="bold" font-size="16">（h）</text>
</svg>
</body></html>
